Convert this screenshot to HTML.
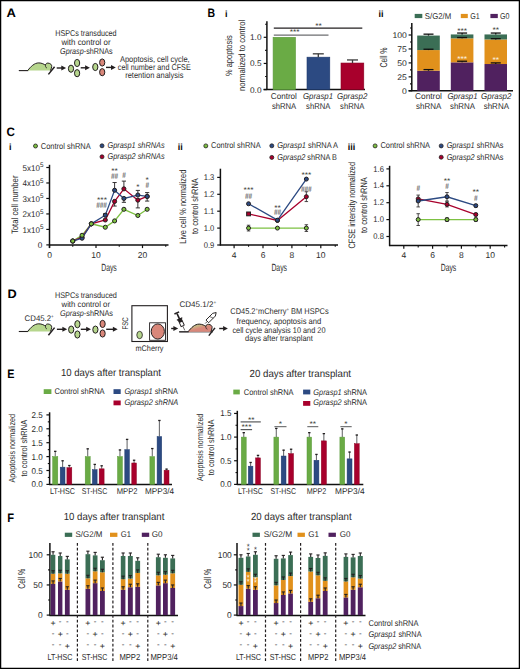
<!DOCTYPE html>
<html><head><meta charset="utf-8"><style>
html,body{margin:0;padding:0;background:#fff;}
svg{display:block;font-family:"Liberation Sans", sans-serif;text-rendering:geometricPrecision;}
</style></head><body>
<svg width="520" height="669" viewBox="0 0 520 669">
<rect width="520" height="669" fill="#fff"/>
<rect x="0" y="0" width="520" height="1.25" fill="#000"/><rect x="0" y="0" width="1.25" height="669" fill="#000"/><rect x="518.75" y="0" width="1.25" height="669" fill="#000"/><rect x="0" y="667.75" width="520" height="1.25" fill="#000"/>
<text x="6.60" y="16.80" font-size="12.2" font-weight="bold" fill="#000" textLength="9.40" lengthAdjust="spacingAndGlyphs">A</text>
<text x="207.40" y="16.80" font-size="12.2" font-weight="bold" fill="#000" textLength="7.60" lengthAdjust="spacingAndGlyphs">B</text>
<text x="6.40" y="135.90" font-size="12.2" font-weight="bold" fill="#000" textLength="8.40" lengthAdjust="spacingAndGlyphs">C</text>
<text x="7.40" y="298.20" font-size="12.2" font-weight="bold" fill="#000" textLength="9.20" lengthAdjust="spacingAndGlyphs">D</text>
<text x="7.20" y="378.30" font-size="12.2" font-weight="bold" fill="#000" textLength="7.20" lengthAdjust="spacingAndGlyphs">E</text>
<text x="7.20" y="521.50" font-size="12.2" font-weight="bold" fill="#000" textLength="6.80" lengthAdjust="spacingAndGlyphs">F</text>
<text x="225.00" y="16.50" font-size="9.0" font-weight="bold" fill="#000">i</text>
<text x="378.50" y="16.90" font-size="9.0" font-weight="bold" fill="#000">ii</text>
<text x="9.00" y="149.80" font-size="9.0" font-weight="bold" fill="#000">i</text>
<text x="177.80" y="149.70" font-size="9.0" font-weight="bold" fill="#000">ii</text>
<text x="347.80" y="149.70" font-size="9.0" font-weight="bold" fill="#000">iii</text>
<text x="85.90" y="36.30" font-size="8.48" text-anchor="middle" fill="#2b2b2b" textLength="61.40" lengthAdjust="spacingAndGlyphs">HSPCs transduced</text>
<text x="86.00" y="44.90" font-size="8.48" text-anchor="middle" fill="#2b2b2b" textLength="49.20" lengthAdjust="spacingAndGlyphs">with control or</text>
<text x="86.35" y="53.60" font-size="8.48" text-anchor="middle" fill="#2b2b2b" textLength="52.50" lengthAdjust="spacingAndGlyphs"><tspan font-style="italic">Gprasp</tspan>-shRNAs</text>
<text x="154.80" y="62.10" font-size="8.48" text-anchor="middle" fill="#2b2b2b" textLength="69.80" lengthAdjust="spacingAndGlyphs">Apoptosis, cell cycle,</text>
<text x="154.30" y="70.10" font-size="8.48" text-anchor="middle" fill="#2b2b2b" textLength="73.00" lengthAdjust="spacingAndGlyphs">cell number and CFSE</text>
<text x="154.30" y="78.10" font-size="8.48" text-anchor="middle" fill="#2b2b2b" textLength="58.20" lengthAdjust="spacingAndGlyphs">retention analysis</text>
<line x1="18.80" y1="70.60" x2="28.30" y2="70.60" stroke="#231f20" stroke-width="1.1"/>
<path d="M27.60,70.60 C30.80,66.60 34.30,62.90 38.80,62.90 C41.80,62.90 44.30,64.40 45.40,65.10 C45.80,63.40 47.10,63.00 48.10,63.10 C50.30,63.30 52.00,64.80 51.70,66.40 C51.50,68.10 51.00,69.60 50.40,70.60 Z" fill="#b6d68d" stroke="none"/>
<path d="M27.60,70.60 C30.80,66.60 34.30,62.90 38.80,62.90 C41.80,62.90 44.30,64.40 45.40,65.10 C45.80,63.40 47.10,63.00 48.10,63.10 C50.30,63.30 52.00,64.80 51.70,66.40 C51.50,68.10 51.00,69.60 50.40,70.60" fill="none" stroke="#231f20" stroke-width="1.0"/>
<path d="M45.40,65.10 C45.40,66.60 45.80,67.80 47.00,68.00" fill="none" stroke="#231f20" stroke-width="0.8"/>
<line x1="48.40" y1="74.40" x2="54.60" y2="66.70" stroke="#231f20" stroke-width="1.5"/>
<line x1="56.70" y1="68.00" x2="62.60" y2="68.00" stroke="#231f20" stroke-width="1.4"/>
<path d="M61.30,65.50 L66.10,68.00 L61.30,70.50 Z" fill="#231f20"/>
<ellipse cx="71.00" cy="68.70" rx="2.6" ry="3.6" fill="#b6d68d" stroke="#231f20" stroke-width="1.0"/>
<ellipse cx="77.10" cy="63.00" rx="2.6" ry="3.6" fill="#b6d68d" stroke="#231f20" stroke-width="1.0"/>
<ellipse cx="77.10" cy="73.20" rx="2.6" ry="3.6" fill="#b6d68d" stroke="#231f20" stroke-width="1.0"/>
<line x1="80.70" y1="67.80" x2="86.40" y2="67.80" stroke="#231f20" stroke-width="1.4"/>
<path d="M85.10,65.30 L89.90,67.80 L85.10,70.30 Z" fill="#231f20"/>
<ellipse cx="95.30" cy="67.00" rx="2.6" ry="3.6" fill="#b6d68d" stroke="#231f20" stroke-width="1.0"/>
<ellipse cx="102.20" cy="62.50" rx="2.6" ry="3.6" fill="#d9877a" stroke="#231f20" stroke-width="1.0"/>
<ellipse cx="102.20" cy="72.20" rx="2.6" ry="3.6" fill="#d9877a" stroke="#231f20" stroke-width="1.0"/>
<line x1="106.00" y1="67.40" x2="112.30" y2="67.40" stroke="#231f20" stroke-width="1.4"/>
<path d="M111.00,64.90 L115.80,67.40 L111.00,69.90 Z" fill="#231f20"/>
<line x1="266.90" y1="21.20" x2="266.90" y2="90.10" stroke="#111" stroke-width="1.5"/>
<line x1="263.70" y1="89.60" x2="266.90" y2="89.60" stroke="#111" stroke-width="1.2"/>
<line x1="263.70" y1="63.45" x2="266.90" y2="63.45" stroke="#111" stroke-width="1.2"/>
<line x1="263.70" y1="37.30" x2="266.90" y2="37.30" stroke="#111" stroke-width="1.2"/>
<line x1="265.10" y1="76.52" x2="266.90" y2="76.52" stroke="#111" stroke-width="1.1"/>
<line x1="265.10" y1="50.38" x2="266.90" y2="50.38" stroke="#111" stroke-width="1.1"/>
<line x1="265.10" y1="24.22" x2="266.90" y2="24.22" stroke="#111" stroke-width="1.1"/>
<line x1="263.60" y1="89.60" x2="365.00" y2="89.60" stroke="#111" stroke-width="1.5"/>
<text x="261.50" y="92.60" font-size="8.2" text-anchor="end" fill="#2b2b2b" textLength="11.50" lengthAdjust="spacingAndGlyphs">0.0</text>
<text x="261.50" y="66.45" font-size="8.2" text-anchor="end" fill="#2b2b2b" textLength="11.50" lengthAdjust="spacingAndGlyphs">0.5</text>
<text x="261.50" y="40.30" font-size="8.2" text-anchor="end" fill="#2b2b2b" textLength="11.50" lengthAdjust="spacingAndGlyphs">1.0</text>
<rect x="273.10" y="37.30" width="22.40" height="52.30" fill="#6aab45" stroke="#5a9a3a" stroke-width="0.6"/>
<rect x="307.00" y="57.17" width="22.80" height="32.43" fill="#2c4a82" stroke="#1f3a6e" stroke-width="0.6"/>
<rect x="341.00" y="63.03" width="22.80" height="26.57" fill="#a8002c" stroke="#8a0022" stroke-width="0.6"/>
<line x1="318.30" y1="57.17" x2="318.30" y2="53.83" stroke="#3a3a3a" stroke-width="1.3"/>
<line x1="312.80" y1="53.83" x2="323.80" y2="53.83" stroke="#3a3a3a" stroke-width="1.3"/>
<line x1="352.50" y1="63.03" x2="352.50" y2="59.95" stroke="#3a3a3a" stroke-width="1.3"/>
<line x1="347.00" y1="59.95" x2="358.00" y2="59.95" stroke="#3a3a3a" stroke-width="1.3"/>
<line x1="273.80" y1="28.20" x2="362.30" y2="28.20" stroke="#231f20" stroke-width="1.3"/>
<line x1="273.80" y1="35.10" x2="328.50" y2="35.10" stroke="#6d6e71" stroke-width="1.4"/>
<text x="318.50" y="27.80" font-size="7.0" text-anchor="middle" fill="#231f20" textLength="6.60" lengthAdjust="spacingAndGlyphs">**</text>
<text x="294.60" y="34.40" font-size="7.0" text-anchor="middle" fill="#231f20" textLength="9.90" lengthAdjust="spacingAndGlyphs">***</text>
<text x="283.85" y="99.10" font-size="8.48" text-anchor="middle" fill="#2b2b2b" textLength="26.10" lengthAdjust="spacingAndGlyphs">Control</text>
<text x="284.05" y="108.60" font-size="8.48" text-anchor="middle" fill="#2b2b2b" textLength="24.30" lengthAdjust="spacingAndGlyphs">shRNA</text>
<text x="318.00" y="99.00" font-size="8.48" text-anchor="middle" font-style="italic" fill="#2b2b2b" textLength="30.00" lengthAdjust="spacingAndGlyphs">Gprasp1</text>
<text x="318.20" y="108.60" font-size="8.48" text-anchor="middle" fill="#2b2b2b" textLength="24.20" lengthAdjust="spacingAndGlyphs">shRNA</text>
<text x="352.15" y="99.00" font-size="8.48" text-anchor="middle" font-style="italic" fill="#2b2b2b" textLength="30.30" lengthAdjust="spacingAndGlyphs">Gprasp2</text>
<text x="352.20" y="108.60" font-size="8.48" text-anchor="middle" fill="#2b2b2b" textLength="24.20" lengthAdjust="spacingAndGlyphs">shRNA</text>
<text x="232.40" y="55.70" font-size="9.2" text-anchor="middle" fill="#2b2b2b" textLength="40.70" lengthAdjust="spacingAndGlyphs" transform="rotate(-90 232.40 55.70)">% apoptosis</text>
<text x="244.80" y="55.40" font-size="9.2" text-anchor="middle" fill="#2b2b2b" textLength="71.20" lengthAdjust="spacingAndGlyphs" transform="rotate(-90 244.80 55.40)">normalized to control</text>
<line x1="411.80" y1="23.00" x2="411.80" y2="91.30" stroke="#111" stroke-width="1.5"/>
<line x1="408.60" y1="90.80" x2="411.80" y2="90.80" stroke="#111" stroke-width="1.2"/>
<line x1="408.60" y1="76.85" x2="411.80" y2="76.85" stroke="#111" stroke-width="1.2"/>
<line x1="408.60" y1="62.90" x2="411.80" y2="62.90" stroke="#111" stroke-width="1.2"/>
<line x1="408.60" y1="48.95" x2="411.80" y2="48.95" stroke="#111" stroke-width="1.2"/>
<line x1="408.60" y1="35.00" x2="411.80" y2="35.00" stroke="#111" stroke-width="1.2"/>
<line x1="410.00" y1="83.83" x2="411.80" y2="83.83" stroke="#111" stroke-width="1.1"/>
<line x1="410.00" y1="69.88" x2="411.80" y2="69.88" stroke="#111" stroke-width="1.1"/>
<line x1="410.00" y1="55.93" x2="411.80" y2="55.93" stroke="#111" stroke-width="1.1"/>
<line x1="410.00" y1="41.98" x2="411.80" y2="41.98" stroke="#111" stroke-width="1.1"/>
<line x1="410.00" y1="28.03" x2="411.80" y2="28.03" stroke="#111" stroke-width="1.1"/>
<line x1="408.60" y1="90.80" x2="513.00" y2="90.80" stroke="#111" stroke-width="1.5"/>
<text x="406.90" y="93.80" font-size="8.2" text-anchor="end" fill="#2b2b2b" textLength="4.80" lengthAdjust="spacingAndGlyphs">0</text>
<text x="406.90" y="79.85" font-size="8.2" text-anchor="end" fill="#2b2b2b" textLength="9.60" lengthAdjust="spacingAndGlyphs">25</text>
<text x="406.90" y="65.90" font-size="8.2" text-anchor="end" fill="#2b2b2b" textLength="9.60" lengthAdjust="spacingAndGlyphs">50</text>
<text x="406.90" y="51.95" font-size="8.2" text-anchor="end" fill="#2b2b2b" textLength="9.60" lengthAdjust="spacingAndGlyphs">75</text>
<text x="406.90" y="38.00" font-size="8.2" text-anchor="end" fill="#2b2b2b" textLength="14.40" lengthAdjust="spacingAndGlyphs">100</text>
<rect x="414.70" y="13.90" width="7.60" height="4.20" fill="#3b6e55"/>
<text x="424.80" y="18.80" font-size="8.48" fill="#2b2b2b" textLength="26.50" lengthAdjust="spacingAndGlyphs">S/G2/M</text>
<rect x="460.80" y="13.90" width="7.00" height="4.20" fill="#e1911c"/>
<text x="470.30" y="18.80" font-size="8.48" fill="#2b2b2b" textLength="9.50" lengthAdjust="spacingAndGlyphs">G1</text>
<rect x="490.40" y="13.90" width="7.40" height="4.20" fill="#50215f"/>
<text x="499.90" y="18.80" font-size="8.48" fill="#2b2b2b" textLength="9.50" lengthAdjust="spacingAndGlyphs">G0</text>
<rect x="417.20" y="70.71" width="22.60" height="20.09" fill="#50215f"/>
<rect x="417.20" y="50.07" width="22.60" height="20.65" fill="#e1911c"/>
<rect x="417.20" y="35.56" width="22.60" height="14.51" fill="#3b6e55"/>
<line x1="428.50" y1="70.71" x2="428.50" y2="69.60" stroke="#111" stroke-width="1.3"/>
<line x1="423.50" y1="69.60" x2="433.50" y2="69.60" stroke="#111" stroke-width="1.3"/>
<line x1="428.50" y1="50.07" x2="428.50" y2="49.23" stroke="#111" stroke-width="1.3"/>
<line x1="423.50" y1="49.23" x2="433.50" y2="49.23" stroke="#111" stroke-width="1.3"/>
<line x1="428.50" y1="35.56" x2="428.50" y2="34.16" stroke="#111" stroke-width="1.3"/>
<line x1="423.50" y1="34.16" x2="433.50" y2="34.16" stroke="#111" stroke-width="1.3"/>
<rect x="450.80" y="62.34" width="22.60" height="28.46" fill="#50215f"/>
<rect x="450.80" y="38.35" width="22.60" height="23.99" fill="#e1911c"/>
<rect x="450.80" y="34.44" width="22.60" height="3.91" fill="#3b6e55"/>
<line x1="462.10" y1="62.34" x2="462.10" y2="61.23" stroke="#111" stroke-width="1.3"/>
<line x1="457.10" y1="61.23" x2="467.10" y2="61.23" stroke="#111" stroke-width="1.3"/>
<line x1="462.10" y1="38.35" x2="462.10" y2="37.51" stroke="#111" stroke-width="1.3"/>
<line x1="457.10" y1="37.51" x2="467.10" y2="37.51" stroke="#111" stroke-width="1.3"/>
<line x1="462.10" y1="34.44" x2="462.10" y2="33.05" stroke="#111" stroke-width="1.3"/>
<line x1="457.10" y1="33.05" x2="467.10" y2="33.05" stroke="#111" stroke-width="1.3"/>
<rect x="484.50" y="64.02" width="22.50" height="26.78" fill="#50215f"/>
<rect x="484.50" y="39.46" width="22.50" height="24.55" fill="#e1911c"/>
<rect x="484.50" y="34.44" width="22.50" height="5.02" fill="#3b6e55"/>
<line x1="495.75" y1="64.02" x2="495.75" y2="62.90" stroke="#111" stroke-width="1.3"/>
<line x1="490.75" y1="62.90" x2="500.75" y2="62.90" stroke="#111" stroke-width="1.3"/>
<line x1="495.75" y1="39.46" x2="495.75" y2="38.63" stroke="#111" stroke-width="1.3"/>
<line x1="490.75" y1="38.63" x2="500.75" y2="38.63" stroke="#111" stroke-width="1.3"/>
<line x1="495.75" y1="34.44" x2="495.75" y2="33.05" stroke="#111" stroke-width="1.3"/>
<line x1="490.75" y1="33.05" x2="500.75" y2="33.05" stroke="#111" stroke-width="1.3"/>
<text x="462.10" y="33.30" font-size="7.0" text-anchor="middle" fill="#231f20" textLength="9.90" lengthAdjust="spacingAndGlyphs">***</text>
<text x="495.70" y="32.40" font-size="7.0" text-anchor="middle" fill="#231f20" textLength="6.60" lengthAdjust="spacingAndGlyphs">**</text>
<text x="462.10" y="60.60" font-size="7.0" text-anchor="middle" fill="#fff" textLength="9.90" lengthAdjust="spacingAndGlyphs">***</text>
<text x="495.70" y="62.00" font-size="7.0" text-anchor="middle" fill="#fff" textLength="6.60" lengthAdjust="spacingAndGlyphs">**</text>
<text x="428.45" y="99.10" font-size="8.48" text-anchor="middle" fill="#2b2b2b" textLength="26.90" lengthAdjust="spacingAndGlyphs">Control</text>
<text x="428.70" y="108.60" font-size="8.48" text-anchor="middle" fill="#2b2b2b" textLength="25.20" lengthAdjust="spacingAndGlyphs">shRNA</text>
<text x="462.50" y="99.10" font-size="8.48" text-anchor="middle" font-style="italic" fill="#2b2b2b" textLength="30.20" lengthAdjust="spacingAndGlyphs">Gprasp1</text>
<text x="462.50" y="108.60" font-size="8.48" text-anchor="middle" fill="#2b2b2b" textLength="25.00" lengthAdjust="spacingAndGlyphs">shRNA</text>
<text x="496.25" y="99.10" font-size="8.48" text-anchor="middle" font-style="italic" fill="#2b2b2b" textLength="30.30" lengthAdjust="spacingAndGlyphs">Gprasp2</text>
<text x="496.35" y="108.60" font-size="8.48" text-anchor="middle" fill="#2b2b2b" textLength="25.30" lengthAdjust="spacingAndGlyphs">shRNA</text>
<text x="387.20" y="57.50" font-size="10.0" text-anchor="middle" fill="#2b2b2b" textLength="20.10" lengthAdjust="spacingAndGlyphs" transform="rotate(-90 387.20 57.50)">Cell %</text>
<circle cx="35.50" cy="146.00" r="2.0" fill="#7dc142" stroke="#231f20" stroke-width="0.8"/>
<text x="40.80" y="148.50" font-size="8.48" fill="#2b2b2b" textLength="49.90" lengthAdjust="spacingAndGlyphs">Control shRNA</text>
<circle cx="102.00" cy="145.80" r="2.0" fill="#2c4a82" stroke="#231f20" stroke-width="0.8"/>
<text x="107.50" y="148.30" font-size="8.48" fill="#2b2b2b" textLength="57.10" lengthAdjust="spacingAndGlyphs"><tspan font-style="italic">Gprasp1</tspan> <tspan font-style="italic">shRNAs</tspan></text>
<circle cx="102.00" cy="156.80" r="2.0" fill="#a8002c" stroke="#231f20" stroke-width="0.8"/>
<text x="107.50" y="159.30" font-size="8.48" fill="#2b2b2b" textLength="57.10" lengthAdjust="spacingAndGlyphs"><tspan font-style="italic">Gprasp2</tspan> <tspan font-style="italic">shRNAs</tspan></text>
<circle cx="205.80" cy="145.90" r="2.0" fill="#7dc142" stroke="#231f20" stroke-width="0.8"/>
<text x="211.10" y="148.40" font-size="8.48" fill="#2b2b2b" textLength="49.50" lengthAdjust="spacingAndGlyphs">Control shRNA</text>
<circle cx="271.80" cy="145.80" r="2.0" fill="#2c4a82" stroke="#231f20" stroke-width="0.8"/>
<text x="277.30" y="148.30" font-size="8.48" fill="#2b2b2b" textLength="60.60" lengthAdjust="spacingAndGlyphs"><tspan font-style="italic">Gprasp1</tspan> shRNA A</text>
<circle cx="271.80" cy="157.40" r="2.0" fill="#a8002c" stroke="#231f20" stroke-width="0.8"/>
<text x="277.30" y="159.90" font-size="8.48" fill="#2b2b2b" textLength="59.70" lengthAdjust="spacingAndGlyphs"><tspan font-style="italic">Gprasp2</tspan> shRNA B</text>
<circle cx="375.10" cy="145.90" r="2.0" fill="#7dc142" stroke="#231f20" stroke-width="0.8"/>
<text x="380.40" y="148.40" font-size="8.48" fill="#2b2b2b" textLength="49.70" lengthAdjust="spacingAndGlyphs">Control shRNA</text>
<circle cx="441.20" cy="145.90" r="2.0" fill="#2c4a82" stroke="#231f20" stroke-width="0.8"/>
<text x="446.70" y="148.40" font-size="8.48" fill="#2b2b2b" textLength="56.80" lengthAdjust="spacingAndGlyphs"><tspan font-style="italic">Gprasp1</tspan> shRNAs</text>
<circle cx="441.20" cy="157.20" r="2.0" fill="#a8002c" stroke="#231f20" stroke-width="0.8"/>
<text x="446.70" y="159.70" font-size="8.48" fill="#2b2b2b" textLength="56.80" lengthAdjust="spacingAndGlyphs"><tspan font-style="italic">Gprasp2</tspan> shRNAs</text>
<line x1="49.50" y1="164.80" x2="49.50" y2="247.90" stroke="#111" stroke-width="1.5"/>
<line x1="46.30" y1="244.90" x2="49.50" y2="244.90" stroke="#111" stroke-width="1.2"/>
<line x1="46.30" y1="229.42" x2="49.50" y2="229.42" stroke="#111" stroke-width="1.2"/>
<line x1="46.30" y1="213.94" x2="49.50" y2="213.94" stroke="#111" stroke-width="1.2"/>
<line x1="46.30" y1="198.46" x2="49.50" y2="198.46" stroke="#111" stroke-width="1.2"/>
<line x1="46.30" y1="182.98" x2="49.50" y2="182.98" stroke="#111" stroke-width="1.2"/>
<line x1="46.30" y1="167.50" x2="49.50" y2="167.50" stroke="#111" stroke-width="1.2"/>
<line x1="49.00" y1="244.90" x2="168.50" y2="244.90" stroke="#111" stroke-width="1.5"/>
<line x1="49.50" y1="244.90" x2="49.50" y2="248.10" stroke="#111" stroke-width="1.2"/>
<line x1="96.00" y1="244.90" x2="96.00" y2="248.10" stroke="#111" stroke-width="1.2"/>
<line x1="142.50" y1="244.90" x2="142.50" y2="248.10" stroke="#111" stroke-width="1.2"/>
<line x1="72.75" y1="244.90" x2="72.75" y2="246.70" stroke="#111" stroke-width="1.1"/>
<line x1="119.25" y1="244.90" x2="119.25" y2="246.70" stroke="#111" stroke-width="1.1"/>
<line x1="165.75" y1="244.90" x2="165.75" y2="246.70" stroke="#111" stroke-width="1.1"/>
<text x="42.40" y="247.90" font-size="8.2" text-anchor="end" fill="#2b2b2b">0</text>
<text x="43.40" y="232.82" font-size="8.4" text-anchor="end" fill="#2b2b2b" textLength="20.90" lengthAdjust="spacingAndGlyphs">1x10<tspan font-size="6.6" dy="-3.8">5</tspan></text>
<text x="43.40" y="217.34" font-size="8.4" text-anchor="end" fill="#2b2b2b" textLength="20.90" lengthAdjust="spacingAndGlyphs">2x10<tspan font-size="6.6" dy="-3.8">5</tspan></text>
<text x="43.40" y="201.86" font-size="8.4" text-anchor="end" fill="#2b2b2b" textLength="20.90" lengthAdjust="spacingAndGlyphs">3x10<tspan font-size="6.6" dy="-3.8">5</tspan></text>
<text x="43.40" y="186.38" font-size="8.4" text-anchor="end" fill="#2b2b2b" textLength="20.90" lengthAdjust="spacingAndGlyphs">4x10<tspan font-size="6.6" dy="-3.8">5</tspan></text>
<text x="43.40" y="170.90" font-size="8.4" text-anchor="end" fill="#2b2b2b" textLength="20.90" lengthAdjust="spacingAndGlyphs">5x10<tspan font-size="6.6" dy="-3.8">5</tspan></text>
<text x="49.50" y="258.30" font-size="8.53" text-anchor="middle" fill="#2b2b2b">0</text>
<text x="96.00" y="258.30" font-size="8.53" text-anchor="middle" fill="#2b2b2b">10</text>
<text x="142.50" y="258.30" font-size="8.53" text-anchor="middle" fill="#2b2b2b">20</text>
<text x="109.00" y="270.50" font-size="10.4" text-anchor="middle" fill="#2b2b2b" textLength="15.60" lengthAdjust="spacingAndGlyphs">Days</text>
<text x="17.60" y="204.80" font-size="9.3" text-anchor="middle" fill="#2b2b2b" textLength="58.60" lengthAdjust="spacingAndGlyphs" transform="rotate(-90 17.60 204.80)">Total cell number</text>
<line x1="114.60" y1="190.26" x2="114.60" y2="182.52" stroke="#231f20" stroke-width="0.9"/>
<line x1="112.50" y1="182.52" x2="116.70" y2="182.52" stroke="#231f20" stroke-width="0.9"/>
<line x1="114.60" y1="201.40" x2="114.60" y2="206.05" stroke="#231f20" stroke-width="0.9"/>
<line x1="112.50" y1="206.05" x2="116.70" y2="206.05" stroke="#231f20" stroke-width="0.9"/>
<line x1="123.90" y1="188.86" x2="123.90" y2="181.12" stroke="#231f20" stroke-width="0.9"/>
<line x1="121.80" y1="181.12" x2="126.00" y2="181.12" stroke="#231f20" stroke-width="0.9"/>
<line x1="123.90" y1="198.46" x2="123.90" y2="202.33" stroke="#231f20" stroke-width="0.9"/>
<line x1="121.80" y1="202.33" x2="126.00" y2="202.33" stroke="#231f20" stroke-width="0.9"/>
<line x1="137.85" y1="195.05" x2="137.85" y2="190.41" stroke="#231f20" stroke-width="0.9"/>
<line x1="135.75" y1="190.41" x2="139.95" y2="190.41" stroke="#231f20" stroke-width="0.9"/>
<line x1="137.85" y1="200.16" x2="137.85" y2="207.90" stroke="#231f20" stroke-width="0.9"/>
<line x1="135.75" y1="207.90" x2="139.95" y2="207.90" stroke="#231f20" stroke-width="0.9"/>
<line x1="147.15" y1="196.45" x2="147.15" y2="192.58" stroke="#231f20" stroke-width="0.9"/>
<line x1="145.05" y1="192.58" x2="149.25" y2="192.58" stroke="#231f20" stroke-width="0.9"/>
<line x1="147.15" y1="196.45" x2="147.15" y2="201.09" stroke="#231f20" stroke-width="0.9"/>
<line x1="145.05" y1="201.09" x2="149.25" y2="201.09" stroke="#231f20" stroke-width="0.9"/>
<line x1="105.30" y1="215.18" x2="105.30" y2="213.63" stroke="#231f20" stroke-width="0.9"/>
<line x1="103.20" y1="213.63" x2="107.40" y2="213.63" stroke="#231f20" stroke-width="0.9"/>
<polyline points="72.75,241.03 82.05,235.30 91.35,223.85 105.30,227.25 114.60,220.91 123.90,209.30 137.85,215.49 147.15,209.30" fill="none" stroke="#7dc142" stroke-width="1.3"/>
<polyline points="72.75,241.03 82.05,237.16 91.35,223.85 105.30,219.98 114.60,201.40 123.90,188.86 137.85,200.16 147.15,196.45" fill="none" stroke="#a8002c" stroke-width="1.3"/>
<polyline points="72.75,241.03 82.05,238.24 91.35,223.85 105.30,215.18 114.60,190.26 123.90,198.46 137.85,195.05 147.15,196.45" fill="none" stroke="#2c4a82" stroke-width="1.3"/>
<circle cx="72.75" cy="241.03" r="2.05" fill="#a8002c" stroke="#231f20" stroke-width="1.0"/>
<circle cx="82.05" cy="237.16" r="2.05" fill="#a8002c" stroke="#231f20" stroke-width="1.0"/>
<circle cx="91.35" cy="223.85" r="2.05" fill="#a8002c" stroke="#231f20" stroke-width="1.0"/>
<circle cx="105.30" cy="219.98" r="2.05" fill="#a8002c" stroke="#231f20" stroke-width="1.0"/>
<circle cx="114.60" cy="201.40" r="2.05" fill="#a8002c" stroke="#231f20" stroke-width="1.0"/>
<circle cx="123.90" cy="188.86" r="2.05" fill="#a8002c" stroke="#231f20" stroke-width="1.0"/>
<circle cx="137.85" cy="200.16" r="2.05" fill="#a8002c" stroke="#231f20" stroke-width="1.0"/>
<circle cx="147.15" cy="196.45" r="2.05" fill="#a8002c" stroke="#231f20" stroke-width="1.0"/>
<circle cx="72.75" cy="241.03" r="2.05" fill="#2c4a82" stroke="#231f20" stroke-width="1.0"/>
<circle cx="82.05" cy="238.24" r="2.05" fill="#2c4a82" stroke="#231f20" stroke-width="1.0"/>
<circle cx="91.35" cy="223.85" r="2.05" fill="#2c4a82" stroke="#231f20" stroke-width="1.0"/>
<circle cx="105.30" cy="215.18" r="2.05" fill="#2c4a82" stroke="#231f20" stroke-width="1.0"/>
<circle cx="114.60" cy="190.26" r="2.05" fill="#2c4a82" stroke="#231f20" stroke-width="1.0"/>
<circle cx="123.90" cy="198.46" r="2.05" fill="#2c4a82" stroke="#231f20" stroke-width="1.0"/>
<circle cx="137.85" cy="195.05" r="2.05" fill="#2c4a82" stroke="#231f20" stroke-width="1.0"/>
<circle cx="147.15" cy="196.45" r="2.05" fill="#2c4a82" stroke="#231f20" stroke-width="1.0"/>
<circle cx="72.75" cy="241.03" r="2.05" fill="#7dc142" stroke="#231f20" stroke-width="1.0"/>
<circle cx="82.05" cy="235.30" r="2.05" fill="#7dc142" stroke="#231f20" stroke-width="1.0"/>
<circle cx="91.35" cy="223.85" r="2.05" fill="#7dc142" stroke="#231f20" stroke-width="1.0"/>
<circle cx="105.30" cy="227.25" r="2.05" fill="#7dc142" stroke="#231f20" stroke-width="1.0"/>
<circle cx="114.60" cy="220.91" r="2.05" fill="#7dc142" stroke="#231f20" stroke-width="1.0"/>
<circle cx="123.90" cy="209.30" r="2.05" fill="#7dc142" stroke="#231f20" stroke-width="1.0"/>
<circle cx="137.85" cy="215.49" r="2.05" fill="#7dc142" stroke="#231f20" stroke-width="1.0"/>
<circle cx="147.15" cy="209.30" r="2.05" fill="#7dc142" stroke="#231f20" stroke-width="1.0"/>
<text x="114.60" y="172.80" font-size="7.0" text-anchor="middle" fill="#231f20" textLength="6.60" lengthAdjust="spacingAndGlyphs">**</text>
<text x="114.60" y="178.80" font-size="8.6" text-anchor="middle" font-style="italic" fill="#414042" textLength="7.00" lengthAdjust="spacingAndGlyphs">##</text>
<text x="123.90" y="178.00" font-size="8.6" text-anchor="middle" font-style="italic" fill="#414042" textLength="3.50" lengthAdjust="spacingAndGlyphs">#</text>
<text x="102.00" y="201.60" font-size="7.0" text-anchor="middle" fill="#231f20" textLength="9.90" lengthAdjust="spacingAndGlyphs">***</text>
<text x="101.50" y="207.60" font-size="8.6" text-anchor="middle" font-style="italic" fill="#414042" textLength="10.50" lengthAdjust="spacingAndGlyphs">###</text>
<text x="137.85" y="188.60" font-size="7.0" text-anchor="middle" fill="#231f20" textLength="3.30" lengthAdjust="spacingAndGlyphs">*</text>
<text x="147.15" y="181.90" font-size="7.0" text-anchor="middle" fill="#231f20" textLength="3.30" lengthAdjust="spacingAndGlyphs">*</text>
<text x="147.15" y="187.60" font-size="8.6" text-anchor="middle" font-style="italic" fill="#414042" textLength="3.50" lengthAdjust="spacingAndGlyphs">#</text>
<line x1="220.40" y1="168.70" x2="220.40" y2="245.50" stroke="#111" stroke-width="1.5"/>
<line x1="217.20" y1="245.00" x2="220.40" y2="245.00" stroke="#111" stroke-width="1.2"/>
<line x1="217.20" y1="228.10" x2="220.40" y2="228.10" stroke="#111" stroke-width="1.2"/>
<line x1="217.20" y1="211.20" x2="220.40" y2="211.20" stroke="#111" stroke-width="1.2"/>
<line x1="217.20" y1="194.30" x2="220.40" y2="194.30" stroke="#111" stroke-width="1.2"/>
<line x1="217.20" y1="177.40" x2="220.40" y2="177.40" stroke="#111" stroke-width="1.2"/>
<line x1="219.90" y1="245.00" x2="338.00" y2="245.00" stroke="#111" stroke-width="1.5"/>
<line x1="234.10" y1="245.00" x2="234.10" y2="248.20" stroke="#111" stroke-width="1.2"/>
<line x1="263.00" y1="245.00" x2="263.00" y2="248.20" stroke="#111" stroke-width="1.2"/>
<line x1="291.90" y1="245.00" x2="291.90" y2="248.20" stroke="#111" stroke-width="1.2"/>
<line x1="320.80" y1="245.00" x2="320.80" y2="248.20" stroke="#111" stroke-width="1.2"/>
<line x1="248.55" y1="245.00" x2="248.55" y2="246.80" stroke="#111" stroke-width="1.1"/>
<line x1="277.45" y1="245.00" x2="277.45" y2="246.80" stroke="#111" stroke-width="1.1"/>
<line x1="306.35" y1="245.00" x2="306.35" y2="246.80" stroke="#111" stroke-width="1.1"/>
<line x1="335.25" y1="245.00" x2="335.25" y2="246.80" stroke="#111" stroke-width="1.1"/>
<text x="214.30" y="247.70" font-size="8.4" text-anchor="end" fill="#2b2b2b" textLength="10.60" lengthAdjust="spacingAndGlyphs">0.9</text>
<text x="214.30" y="230.80" font-size="8.4" text-anchor="end" fill="#2b2b2b" textLength="10.60" lengthAdjust="spacingAndGlyphs">1.0</text>
<text x="214.30" y="213.90" font-size="8.4" text-anchor="end" fill="#2b2b2b" textLength="10.60" lengthAdjust="spacingAndGlyphs">1.1</text>
<text x="214.30" y="197.00" font-size="8.4" text-anchor="end" fill="#2b2b2b" textLength="10.60" lengthAdjust="spacingAndGlyphs">1.2</text>
<text x="214.30" y="180.10" font-size="8.4" text-anchor="end" fill="#2b2b2b" textLength="10.60" lengthAdjust="spacingAndGlyphs">1.3</text>
<text x="234.10" y="258.30" font-size="8.53" text-anchor="middle" fill="#2b2b2b">4</text>
<text x="263.00" y="258.30" font-size="8.53" text-anchor="middle" fill="#2b2b2b">6</text>
<text x="291.90" y="258.30" font-size="8.53" text-anchor="middle" fill="#2b2b2b">8</text>
<text x="320.80" y="258.30" font-size="8.53" text-anchor="middle" fill="#2b2b2b">10</text>
<text x="279.20" y="270.50" font-size="10.4" text-anchor="middle" fill="#2b2b2b" textLength="15.60" lengthAdjust="spacingAndGlyphs">Days</text>
<text x="186.40" y="206.70" font-size="9.3" text-anchor="middle" fill="#2b2b2b" textLength="74.10" lengthAdjust="spacingAndGlyphs" transform="rotate(-90 186.40 206.70)">Live cell % normalized</text>
<text x="197.90" y="206.20" font-size="9.3" text-anchor="middle" fill="#2b2b2b" textLength="55.70" lengthAdjust="spacingAndGlyphs" transform="rotate(-90 197.90 206.20)">to control shRNA</text>
<line x1="248.55" y1="228.10" x2="248.55" y2="225.23" stroke="#231f20" stroke-width="0.8"/>
<line x1="246.80" y1="225.23" x2="250.30" y2="225.23" stroke="#231f20" stroke-width="0.8"/>
<line x1="248.55" y1="228.10" x2="248.55" y2="230.97" stroke="#231f20" stroke-width="0.8"/>
<line x1="246.80" y1="230.97" x2="250.30" y2="230.97" stroke="#231f20" stroke-width="0.8"/>
<line x1="306.35" y1="228.10" x2="306.35" y2="224.72" stroke="#231f20" stroke-width="0.8"/>
<line x1="304.60" y1="224.72" x2="308.10" y2="224.72" stroke="#231f20" stroke-width="0.8"/>
<line x1="306.35" y1="228.10" x2="306.35" y2="231.48" stroke="#231f20" stroke-width="0.8"/>
<line x1="304.60" y1="231.48" x2="308.10" y2="231.48" stroke="#231f20" stroke-width="0.8"/>
<line x1="306.35" y1="196.67" x2="306.35" y2="191.76" stroke="#231f20" stroke-width="0.8"/>
<line x1="304.60" y1="191.76" x2="308.10" y2="191.76" stroke="#231f20" stroke-width="0.8"/>
<line x1="306.35" y1="196.67" x2="306.35" y2="201.57" stroke="#231f20" stroke-width="0.8"/>
<line x1="304.60" y1="201.57" x2="308.10" y2="201.57" stroke="#231f20" stroke-width="0.8"/>
<polyline points="248.55,228.10 277.45,228.10 306.35,228.10" fill="none" stroke="#7dc142" stroke-width="1.3"/>
<polyline points="248.55,213.90 277.45,220.50 306.35,196.67" fill="none" stroke="#a8002c" stroke-width="1.3"/>
<polyline points="248.55,203.76 277.45,220.16 306.35,179.09" fill="none" stroke="#2c4a82" stroke-width="1.3"/>
<rect x="246.65" y="212.00" width="3.80" height="3.80" fill="#a8002c" stroke="#231f20" stroke-width="1.0"/>
<circle cx="277.45" cy="220.50" r="2.0" fill="#a8002c" stroke="#231f20" stroke-width="1.0"/>
<circle cx="306.35" cy="196.67" r="2.0" fill="#a8002c" stroke="#231f20" stroke-width="1.0"/>
<circle cx="248.55" cy="203.76" r="2.0" fill="#2c4a82" stroke="#231f20" stroke-width="1.0"/>
<circle cx="277.45" cy="220.16" r="2.0" fill="#2c4a82" stroke="#231f20" stroke-width="1.0"/>
<circle cx="306.35" cy="179.09" r="2.0" fill="#2c4a82" stroke="#231f20" stroke-width="1.0"/>
<circle cx="248.55" cy="228.10" r="2.0" fill="#7dc142" stroke="#231f20" stroke-width="1.0"/>
<circle cx="277.45" cy="228.10" r="2.0" fill="#7dc142" stroke="#231f20" stroke-width="1.0"/>
<circle cx="306.35" cy="228.10" r="2.0" fill="#7dc142" stroke="#231f20" stroke-width="1.0"/>
<text x="248.55" y="192.20" font-size="7.0" text-anchor="middle" fill="#231f20" textLength="9.90" lengthAdjust="spacingAndGlyphs">***</text>
<text x="248.55" y="198.60" font-size="8.6" text-anchor="middle" font-style="italic" fill="#414042" textLength="7.00" lengthAdjust="spacingAndGlyphs">##</text>
<text x="277.45" y="209.60" font-size="7.0" text-anchor="middle" fill="#231f20" textLength="6.60" lengthAdjust="spacingAndGlyphs">**</text>
<text x="277.45" y="215.00" font-size="8.6" text-anchor="middle" font-style="italic" fill="#414042" textLength="7.00" lengthAdjust="spacingAndGlyphs">##</text>
<text x="306.35" y="176.90" font-size="7.0" text-anchor="middle" fill="#231f20" textLength="9.90" lengthAdjust="spacingAndGlyphs">***</text>
<text x="306.35" y="191.80" font-size="8.6" text-anchor="middle" font-style="italic" fill="#414042" textLength="10.50" lengthAdjust="spacingAndGlyphs">###</text>
<line x1="389.60" y1="165.80" x2="389.60" y2="246.10" stroke="#111" stroke-width="1.5"/>
<line x1="386.40" y1="236.50" x2="389.60" y2="236.50" stroke="#111" stroke-width="1.2"/>
<line x1="386.40" y1="219.60" x2="389.60" y2="219.60" stroke="#111" stroke-width="1.2"/>
<line x1="386.40" y1="202.70" x2="389.60" y2="202.70" stroke="#111" stroke-width="1.2"/>
<line x1="386.40" y1="185.80" x2="389.60" y2="185.80" stroke="#111" stroke-width="1.2"/>
<line x1="386.40" y1="168.90" x2="389.60" y2="168.90" stroke="#111" stroke-width="1.2"/>
<line x1="389.10" y1="245.60" x2="507.50" y2="245.60" stroke="#111" stroke-width="1.5"/>
<line x1="403.80" y1="245.60" x2="403.80" y2="248.80" stroke="#111" stroke-width="1.2"/>
<line x1="432.60" y1="245.60" x2="432.60" y2="248.80" stroke="#111" stroke-width="1.2"/>
<line x1="461.40" y1="245.60" x2="461.40" y2="248.80" stroke="#111" stroke-width="1.2"/>
<line x1="490.20" y1="245.60" x2="490.20" y2="248.80" stroke="#111" stroke-width="1.2"/>
<line x1="418.20" y1="245.60" x2="418.20" y2="247.40" stroke="#111" stroke-width="1.1"/>
<line x1="447.00" y1="245.60" x2="447.00" y2="247.40" stroke="#111" stroke-width="1.1"/>
<line x1="475.80" y1="245.60" x2="475.80" y2="247.40" stroke="#111" stroke-width="1.1"/>
<line x1="504.60" y1="245.60" x2="504.60" y2="247.40" stroke="#111" stroke-width="1.1"/>
<text x="383.90" y="239.10" font-size="8.4" text-anchor="end" fill="#2b2b2b" textLength="10.60" lengthAdjust="spacingAndGlyphs">0.8</text>
<text x="383.90" y="222.20" font-size="8.4" text-anchor="end" fill="#2b2b2b" textLength="10.60" lengthAdjust="spacingAndGlyphs">1.0</text>
<text x="383.90" y="205.30" font-size="8.4" text-anchor="end" fill="#2b2b2b" textLength="10.60" lengthAdjust="spacingAndGlyphs">1.2</text>
<text x="383.90" y="188.40" font-size="8.4" text-anchor="end" fill="#2b2b2b" textLength="10.60" lengthAdjust="spacingAndGlyphs">1.4</text>
<text x="383.90" y="171.50" font-size="8.4" text-anchor="end" fill="#2b2b2b" textLength="10.60" lengthAdjust="spacingAndGlyphs">1.6</text>
<text x="403.80" y="258.30" font-size="8.53" text-anchor="middle" fill="#2b2b2b">4</text>
<text x="432.60" y="258.30" font-size="8.53" text-anchor="middle" fill="#2b2b2b">6</text>
<text x="461.40" y="258.30" font-size="8.53" text-anchor="middle" fill="#2b2b2b">8</text>
<text x="490.20" y="258.30" font-size="8.53" text-anchor="middle" fill="#2b2b2b">10</text>
<text x="448.50" y="270.50" font-size="10.4" text-anchor="middle" fill="#2b2b2b" textLength="15.60" lengthAdjust="spacingAndGlyphs">Days</text>
<text x="355.40" y="205.20" font-size="9.3" text-anchor="middle" fill="#2b2b2b" textLength="86.50" lengthAdjust="spacingAndGlyphs" transform="rotate(-90 355.40 205.20)">CFSE intensity normalized</text>
<text x="366.90" y="205.20" font-size="9.3" text-anchor="middle" fill="#2b2b2b" textLength="55.70" lengthAdjust="spacingAndGlyphs" transform="rotate(-90 366.90 205.20)">to control shRNA</text>
<line x1="418.20" y1="219.60" x2="418.20" y2="213.69" stroke="#231f20" stroke-width="0.8"/>
<line x1="416.45" y1="213.69" x2="419.95" y2="213.69" stroke="#231f20" stroke-width="0.8"/>
<line x1="418.20" y1="219.60" x2="418.20" y2="225.51" stroke="#231f20" stroke-width="0.8"/>
<line x1="416.45" y1="225.51" x2="419.95" y2="225.51" stroke="#231f20" stroke-width="0.8"/>
<line x1="447.00" y1="219.60" x2="447.00" y2="217.91" stroke="#231f20" stroke-width="0.8"/>
<line x1="445.25" y1="217.91" x2="448.75" y2="217.91" stroke="#231f20" stroke-width="0.8"/>
<line x1="447.00" y1="219.60" x2="447.00" y2="221.29" stroke="#231f20" stroke-width="0.8"/>
<line x1="445.25" y1="221.29" x2="448.75" y2="221.29" stroke="#231f20" stroke-width="0.8"/>
<line x1="475.80" y1="219.60" x2="475.80" y2="217.91" stroke="#231f20" stroke-width="0.8"/>
<line x1="474.05" y1="217.91" x2="477.55" y2="217.91" stroke="#231f20" stroke-width="0.8"/>
<line x1="475.80" y1="219.60" x2="475.80" y2="221.29" stroke="#231f20" stroke-width="0.8"/>
<line x1="474.05" y1="221.29" x2="477.55" y2="221.29" stroke="#231f20" stroke-width="0.8"/>
<line x1="418.20" y1="201.01" x2="418.20" y2="195.09" stroke="#231f20" stroke-width="0.8"/>
<line x1="416.45" y1="195.09" x2="419.95" y2="195.09" stroke="#231f20" stroke-width="0.8"/>
<line x1="418.20" y1="201.01" x2="418.20" y2="206.93" stroke="#231f20" stroke-width="0.8"/>
<line x1="416.45" y1="206.93" x2="419.95" y2="206.93" stroke="#231f20" stroke-width="0.8"/>
<line x1="447.00" y1="196.78" x2="447.00" y2="192.56" stroke="#231f20" stroke-width="0.8"/>
<line x1="445.25" y1="192.56" x2="448.75" y2="192.56" stroke="#231f20" stroke-width="0.8"/>
<line x1="447.00" y1="196.78" x2="447.00" y2="201.01" stroke="#231f20" stroke-width="0.8"/>
<line x1="445.25" y1="201.01" x2="448.75" y2="201.01" stroke="#231f20" stroke-width="0.8"/>
<line x1="447.00" y1="204.39" x2="447.00" y2="201.85" stroke="#231f20" stroke-width="0.8"/>
<line x1="445.25" y1="201.85" x2="448.75" y2="201.85" stroke="#231f20" stroke-width="0.8"/>
<line x1="447.00" y1="204.39" x2="447.00" y2="206.93" stroke="#231f20" stroke-width="0.8"/>
<line x1="445.25" y1="206.93" x2="448.75" y2="206.93" stroke="#231f20" stroke-width="0.8"/>
<line x1="475.80" y1="205.66" x2="475.80" y2="204.39" stroke="#231f20" stroke-width="0.8"/>
<line x1="474.05" y1="204.39" x2="477.55" y2="204.39" stroke="#231f20" stroke-width="0.8"/>
<line x1="475.80" y1="205.66" x2="475.80" y2="206.92" stroke="#231f20" stroke-width="0.8"/>
<line x1="474.05" y1="206.92" x2="477.55" y2="206.92" stroke="#231f20" stroke-width="0.8"/>
<line x1="475.80" y1="214.53" x2="475.80" y2="213.26" stroke="#231f20" stroke-width="0.8"/>
<line x1="474.05" y1="213.26" x2="477.55" y2="213.26" stroke="#231f20" stroke-width="0.8"/>
<line x1="475.80" y1="214.53" x2="475.80" y2="215.80" stroke="#231f20" stroke-width="0.8"/>
<line x1="474.05" y1="215.80" x2="477.55" y2="215.80" stroke="#231f20" stroke-width="0.8"/>
<polyline points="418.20,219.60 447.00,219.60 475.80,219.60" fill="none" stroke="#7dc142" stroke-width="1.3"/>
<polyline points="418.20,198.90 447.00,204.39 475.80,214.53" fill="none" stroke="#a8002c" stroke-width="1.3"/>
<polyline points="418.20,201.01 447.00,196.78 475.80,205.66" fill="none" stroke="#2c4a82" stroke-width="1.3"/>
<circle cx="418.20" cy="198.90" r="2.0" fill="#a8002c" stroke="#231f20" stroke-width="1.0"/>
<circle cx="447.00" cy="204.39" r="2.0" fill="#a8002c" stroke="#231f20" stroke-width="1.0"/>
<circle cx="475.80" cy="214.53" r="2.0" fill="#a8002c" stroke="#231f20" stroke-width="1.0"/>
<circle cx="418.20" cy="201.01" r="2.0" fill="#2c4a82" stroke="#231f20" stroke-width="1.0"/>
<circle cx="447.00" cy="196.78" r="2.0" fill="#2c4a82" stroke="#231f20" stroke-width="1.0"/>
<circle cx="475.80" cy="205.66" r="2.0" fill="#2c4a82" stroke="#231f20" stroke-width="1.0"/>
<circle cx="418.20" cy="219.60" r="2.0" fill="#7dc142" stroke="#231f20" stroke-width="1.0"/>
<circle cx="447.00" cy="219.60" r="2.0" fill="#7dc142" stroke="#231f20" stroke-width="1.0"/>
<circle cx="475.80" cy="219.60" r="2.0" fill="#7dc142" stroke="#231f20" stroke-width="1.0"/>
<text x="418.20" y="190.90" font-size="8.6" text-anchor="middle" font-style="italic" fill="#414042" textLength="3.50" lengthAdjust="spacingAndGlyphs">#</text>
<text x="447.00" y="182.60" font-size="7.0" text-anchor="middle" fill="#231f20" textLength="6.60" lengthAdjust="spacingAndGlyphs">**</text>
<text x="447.00" y="189.00" font-size="8.6" text-anchor="middle" font-style="italic" fill="#414042" textLength="3.50" lengthAdjust="spacingAndGlyphs">#</text>
<text x="475.80" y="194.20" font-size="7.0" text-anchor="middle" fill="#231f20" textLength="6.60" lengthAdjust="spacingAndGlyphs">**</text>
<text x="475.80" y="200.50" font-size="8.6" text-anchor="middle" font-style="italic" fill="#414042" textLength="3.50" lengthAdjust="spacingAndGlyphs">#</text>
<text x="85.90" y="298.20" font-size="8.27" text-anchor="middle" fill="#2b2b2b" textLength="62.00" lengthAdjust="spacingAndGlyphs">HSPCs transduced</text>
<text x="85.75" y="306.90" font-size="8.27" text-anchor="middle" fill="#2b2b2b" textLength="48.50" lengthAdjust="spacingAndGlyphs">with control or</text>
<text x="86.50" y="315.80" font-size="8.27" text-anchor="middle" fill="#2b2b2b" textLength="53.00" lengthAdjust="spacingAndGlyphs"><tspan font-style="italic">Gprasp</tspan>-shRNAs</text>
<text x="24.60" y="320.80" font-size="8.16" fill="#2b2b2b" textLength="29.20" lengthAdjust="spacingAndGlyphs">CD45.2<tspan font-size="4.8" dy="-3">+</tspan></text>
<line x1="18.80" y1="331.50" x2="28.30" y2="331.50" stroke="#231f20" stroke-width="1.1"/>
<path d="M27.60,331.50 C30.80,327.50 34.30,323.80 38.80,323.80 C41.80,323.80 44.30,325.30 45.40,326.00 C45.80,324.30 47.10,323.90 48.10,324.00 C50.30,324.20 52.00,325.70 51.70,327.30 C51.50,329.00 51.00,330.50 50.40,331.50 Z" fill="#b6d68d" stroke="none"/>
<path d="M27.60,331.50 C30.80,327.50 34.30,323.80 38.80,323.80 C41.80,323.80 44.30,325.30 45.40,326.00 C45.80,324.30 47.10,323.90 48.10,324.00 C50.30,324.20 52.00,325.70 51.70,327.30 C51.50,329.00 51.00,330.50 50.40,331.50" fill="none" stroke="#231f20" stroke-width="1.0"/>
<path d="M45.40,326.00 C45.40,327.50 45.80,328.70 47.00,328.90" fill="none" stroke="#231f20" stroke-width="0.8"/>
<line x1="48.40" y1="335.30" x2="54.60" y2="327.60" stroke="#231f20" stroke-width="1.5"/>
<line x1="56.90" y1="329.30" x2="63.70" y2="329.30" stroke="#231f20" stroke-width="1.4"/>
<path d="M62.40,326.80 L67.20,329.30 L62.40,331.80 Z" fill="#231f20"/>
<ellipse cx="71.20" cy="329.60" rx="2.6" ry="3.6" fill="#b6d68d" stroke="#231f20" stroke-width="1.0"/>
<ellipse cx="77.40" cy="324.20" rx="2.6" ry="3.6" fill="#b6d68d" stroke="#231f20" stroke-width="1.0"/>
<ellipse cx="77.40" cy="334.50" rx="2.6" ry="3.6" fill="#b6d68d" stroke="#231f20" stroke-width="1.0"/>
<line x1="80.80" y1="329.30" x2="87.50" y2="329.30" stroke="#231f20" stroke-width="1.4"/>
<path d="M86.20,326.80 L91.00,329.30 L86.20,331.80 Z" fill="#231f20"/>
<ellipse cx="95.40" cy="329.60" rx="2.6" ry="3.6" fill="#b6d68d" stroke="#231f20" stroke-width="1.0"/>
<ellipse cx="102.60" cy="323.90" rx="2.6" ry="3.6" fill="#d9877a" stroke="#231f20" stroke-width="1.0"/>
<ellipse cx="102.60" cy="333.50" rx="2.6" ry="3.6" fill="#d9877a" stroke="#231f20" stroke-width="1.0"/>
<line x1="106.20" y1="329.30" x2="114.20" y2="329.30" stroke="#231f20" stroke-width="1.4"/>
<path d="M112.90,326.80 L117.70,329.30 L112.90,331.80 Z" fill="#231f20"/>
<text x="127.60" y="323.50" font-size="8.2" text-anchor="middle" fill="#2b2b2b" textLength="12.20" lengthAdjust="spacingAndGlyphs" transform="rotate(-90 127.60 323.50)">FSC</text>
<rect x="131.9" y="305.7" width="35.5" height="35.8" fill="none" stroke="#231f20" stroke-width="1.1"/>
<rect x="149.6" y="322.8" width="15.9" height="17.5" fill="none" stroke="#231f20" stroke-width="0.9"/>
<ellipse cx="157.8" cy="331.5" rx="6.6" ry="7.6" fill="#d9877a" stroke="#231f20" stroke-width="1"/>
<ellipse cx="139.6" cy="335.0" rx="2.8" ry="3.7" fill="#b6d68d" stroke="#231f20" stroke-width="0.8"/>
<text x="149.50" y="351.00" font-size="8.16" text-anchor="middle" fill="#2b2b2b" textLength="28.00" lengthAdjust="spacingAndGlyphs">mCherry</text>
<line x1="171.20" y1="328.50" x2="174.70" y2="328.50" stroke="#231f20" stroke-width="1.4"/>
<path d="M173.40,326.00 L178.20,328.50 L173.40,331.00 Z" fill="#231f20"/>
<text x="179.50" y="307.00" font-size="8.16" fill="#2b2b2b" textLength="36.70" lengthAdjust="spacingAndGlyphs">CD45.1/2<tspan font-size="4.8" dy="-3">+</tspan></text>
<defs><linearGradient id="mg" x1="0" y1="0" x2="0.75" y2="1"><stop offset="0" stop-color="#b6d68d"/><stop offset="0.35" stop-color="#c9b384"/><stop offset="0.6" stop-color="#d9877a"/><stop offset="1" stop-color="#d9877a"/></linearGradient></defs>
<line x1="179.20" y1="331.80" x2="213.00" y2="331.80" stroke="#6d6e71" stroke-width="1.2"/>
<line x1="179.20" y1="331.80" x2="188.70" y2="331.80" stroke="#231f20" stroke-width="1.1"/>
<path d="M188.00,331.80 C191.20,327.80 194.70,324.10 199.20,324.10 C202.20,324.10 204.70,325.60 205.80,326.30 C206.20,324.60 207.50,324.20 208.50,324.30 C210.70,324.50 212.40,326.00 212.10,327.60 C211.90,329.30 211.40,330.80 210.80,331.80 Z" fill="url(#mg)" stroke="none"/>
<path d="M188.00,331.80 C191.20,327.80 194.70,324.10 199.20,324.10 C202.20,324.10 204.70,325.60 205.80,326.30 C206.20,324.60 207.50,324.20 208.50,324.30 C210.70,324.50 212.40,326.00 212.10,327.60 C211.90,329.30 211.40,330.80 210.80,331.80" fill="none" stroke="#231f20" stroke-width="1.0"/>
<path d="M205.80,326.30 C205.80,327.80 206.20,329.00 207.40,329.20" fill="none" stroke="#231f20" stroke-width="0.8"/>
<line x1="208.80" y1="335.60" x2="215.00" y2="327.90" stroke="#231f20" stroke-width="1.5"/>
<g transform="translate(184.8,330.4) rotate(-24.7)"><line x1="0" y1="0" x2="0" y2="-5" stroke="#231f20" stroke-width="0.6"/><rect x="-1.7" y="-12.5" width="3.4" height="7.5" fill="#fff" stroke="#231f20" stroke-width="0.9"/><rect x="-1.7" y="-12.5" width="3.4" height="3.5" fill="#231f20"/><line x1="-3" y1="-12.5" x2="3" y2="-12.5" stroke="#231f20" stroke-width="1.2"/><line x1="0" y1="-12.5" x2="0" y2="-18.5" stroke="#231f20" stroke-width="1.6"/><line x1="-2.6" y1="-19.2" x2="2.6" y2="-19.2" stroke="#231f20" stroke-width="1.5"/></g>
<g transform="translate(205.2,323.5) rotate(45)"><line x1="0" y1="0" x2="0" y2="-3" stroke="#231f20" stroke-width="0.7"/><path d="M-1.9,-3 L1.9,-3 L1.9,-12.5 L0,-15.5 L-1.9,-12.5 Z" fill="#fff" stroke="#231f20" stroke-width="0.9"/><line x1="-1.9" y1="-8" x2="1.9" y2="-9.5" stroke="#231f20" stroke-width="0.6"/></g>
<line x1="219.20" y1="328.50" x2="224.40" y2="328.50" stroke="#231f20" stroke-width="1.4"/>
<path d="M223.10,326.00 L227.90,328.50 L223.10,331.00 Z" fill="#231f20"/>
<text x="230.30" y="314.20" font-size="8.32" fill="#2b2b2b" textLength="98.40" lengthAdjust="spacingAndGlyphs">CD45.2<tspan font-size="4.8" dy="-3">+</tspan><tspan dy="3">mCherry</tspan><tspan font-size="4.8" dy="-3">+</tspan><tspan dy="3"> BM HSPCs</tspan></text>
<text x="278.95" y="323.60" font-size="8.27" text-anchor="middle" fill="#2b2b2b" textLength="84.70" lengthAdjust="spacingAndGlyphs">frequency, apoptosis and</text>
<text x="278.95" y="332.70" font-size="8.27" text-anchor="middle" fill="#2b2b2b" textLength="93.10" lengthAdjust="spacingAndGlyphs">cell cycle analysis 10 and 20</text>
<text x="278.95" y="341.10" font-size="8.27" text-anchor="middle" fill="#2b2b2b" textLength="67.70" lengthAdjust="spacingAndGlyphs">days after transplant</text>
<text x="60.90" y="376.30" font-size="10.3" fill="#2b2b2b" textLength="100.00" lengthAdjust="spacingAndGlyphs">10 days after transplant</text>
<text x="249.50" y="376.70" font-size="10.3" fill="#2b2b2b" textLength="101.50" lengthAdjust="spacingAndGlyphs">20 days after transplant</text>
<rect x="43.70" y="389.20" width="7.70" height="4.80" fill="#6aab45"/>
<text x="54.50" y="394.20" font-size="8.27" fill="#2b2b2b" textLength="50.10" lengthAdjust="spacingAndGlyphs">Control shRNA</text>
<rect x="113.50" y="389.20" width="7.20" height="4.80" fill="#2c4a82"/>
<text x="124.40" y="394.20" font-size="8.27" fill="#2b2b2b" textLength="53.60" lengthAdjust="spacingAndGlyphs"><tspan font-style="italic">Gprasp1</tspan> shRNA</text>
<rect x="113.50" y="400.50" width="7.20" height="4.80" fill="#a8002c"/>
<text x="124.40" y="404.50" font-size="8.27" fill="#2b2b2b" textLength="53.90" lengthAdjust="spacingAndGlyphs"><tspan font-style="italic">Gprasp2 shRNA</tspan></text>
<rect x="233.30" y="389.60" width="6.50" height="4.80" fill="#6aab45"/>
<text x="243.80" y="394.60" font-size="8.27" fill="#2b2b2b" textLength="49.80" lengthAdjust="spacingAndGlyphs">Control shRNA</text>
<rect x="303.10" y="389.60" width="7.20" height="4.80" fill="#2c4a82"/>
<text x="313.30" y="394.60" font-size="8.27" fill="#2b2b2b" textLength="53.70" lengthAdjust="spacingAndGlyphs"><tspan font-style="italic">Gprasp1</tspan> shRNA</text>
<rect x="303.10" y="401.00" width="7.20" height="4.80" fill="#a8002c"/>
<text x="313.30" y="405.00" font-size="8.27" fill="#2b2b2b" textLength="53.70" lengthAdjust="spacingAndGlyphs"><tspan font-style="italic">Gprasp2</tspan> shRNA</text>
<line x1="49.60" y1="412.30" x2="49.60" y2="484.90" stroke="#111" stroke-width="1.5"/>
<line x1="46.40" y1="484.40" x2="49.60" y2="484.40" stroke="#111" stroke-width="1.2"/>
<line x1="46.40" y1="470.50" x2="49.60" y2="470.50" stroke="#111" stroke-width="1.2"/>
<line x1="46.40" y1="456.60" x2="49.60" y2="456.60" stroke="#111" stroke-width="1.2"/>
<line x1="46.40" y1="442.70" x2="49.60" y2="442.70" stroke="#111" stroke-width="1.2"/>
<line x1="46.40" y1="428.80" x2="49.60" y2="428.80" stroke="#111" stroke-width="1.2"/>
<line x1="46.40" y1="414.90" x2="49.60" y2="414.90" stroke="#111" stroke-width="1.2"/>
<line x1="47.80" y1="477.45" x2="49.60" y2="477.45" stroke="#111" stroke-width="1.1"/>
<line x1="47.80" y1="463.55" x2="49.60" y2="463.55" stroke="#111" stroke-width="1.1"/>
<line x1="47.80" y1="449.65" x2="49.60" y2="449.65" stroke="#111" stroke-width="1.1"/>
<line x1="47.80" y1="435.75" x2="49.60" y2="435.75" stroke="#111" stroke-width="1.1"/>
<line x1="47.80" y1="421.85" x2="49.60" y2="421.85" stroke="#111" stroke-width="1.1"/>
<line x1="49.10" y1="484.40" x2="172.00" y2="484.40" stroke="#111" stroke-width="1.5"/>
<text x="42.70" y="487.40" font-size="8.53" text-anchor="end" fill="#2b2b2b" textLength="11.20" lengthAdjust="spacingAndGlyphs">0.0</text>
<text x="42.70" y="473.50" font-size="8.53" text-anchor="end" fill="#2b2b2b" textLength="11.20" lengthAdjust="spacingAndGlyphs">0.5</text>
<text x="42.70" y="459.60" font-size="8.53" text-anchor="end" fill="#2b2b2b" textLength="11.20" lengthAdjust="spacingAndGlyphs">1.0</text>
<text x="42.70" y="445.70" font-size="8.53" text-anchor="end" fill="#2b2b2b" textLength="11.20" lengthAdjust="spacingAndGlyphs">1.5</text>
<text x="42.70" y="431.80" font-size="8.53" text-anchor="end" fill="#2b2b2b" textLength="11.20" lengthAdjust="spacingAndGlyphs">2.0</text>
<text x="42.70" y="417.90" font-size="8.53" text-anchor="end" fill="#2b2b2b" textLength="11.20" lengthAdjust="spacingAndGlyphs">2.5</text>
<line x1="55.25" y1="456.60" x2="55.25" y2="451.04" stroke="#6d6e71" stroke-width="1.1"/>
<line x1="54.05" y1="451.34" x2="56.45" y2="451.34" stroke="#231f20" stroke-width="1.3"/>
<rect x="52.70" y="456.60" width="5.10" height="27.80" fill="#6aab45" stroke="#5a9a3a" stroke-width="0.5"/>
<line x1="62.60" y1="467.16" x2="62.60" y2="460.49" stroke="#6d6e71" stroke-width="1.1"/>
<line x1="61.40" y1="460.79" x2="63.80" y2="460.79" stroke="#231f20" stroke-width="1.3"/>
<rect x="60.20" y="467.16" width="4.80" height="17.24" fill="#2c4a82" stroke="#1f3a6e" stroke-width="0.5"/>
<line x1="69.35" y1="467.72" x2="69.35" y2="465.22" stroke="#6d6e71" stroke-width="1.1"/>
<line x1="68.15" y1="465.52" x2="70.55" y2="465.52" stroke="#231f20" stroke-width="1.3"/>
<rect x="66.90" y="467.72" width="4.90" height="16.68" fill="#a8002c" stroke="#8a0022" stroke-width="0.5"/>
<line x1="87.70" y1="456.60" x2="87.70" y2="448.54" stroke="#6d6e71" stroke-width="1.1"/>
<line x1="86.50" y1="448.84" x2="88.90" y2="448.84" stroke="#231f20" stroke-width="1.3"/>
<rect x="85.20" y="456.60" width="5.00" height="27.80" fill="#6aab45" stroke="#5a9a3a" stroke-width="0.5"/>
<line x1="94.75" y1="469.67" x2="94.75" y2="464.11" stroke="#6d6e71" stroke-width="1.1"/>
<line x1="93.55" y1="464.41" x2="95.95" y2="464.41" stroke="#231f20" stroke-width="1.3"/>
<rect x="92.40" y="469.67" width="4.70" height="14.73" fill="#2c4a82" stroke="#1f3a6e" stroke-width="0.5"/>
<line x1="101.65" y1="468.83" x2="101.65" y2="465.50" stroke="#6d6e71" stroke-width="1.1"/>
<line x1="100.45" y1="465.80" x2="102.85" y2="465.80" stroke="#231f20" stroke-width="1.3"/>
<rect x="99.20" y="468.83" width="4.90" height="15.57" fill="#a8002c" stroke="#8a0022" stroke-width="0.5"/>
<line x1="119.95" y1="456.60" x2="119.95" y2="449.65" stroke="#6d6e71" stroke-width="1.1"/>
<line x1="118.75" y1="449.95" x2="121.15" y2="449.95" stroke="#231f20" stroke-width="1.3"/>
<rect x="117.50" y="456.60" width="4.90" height="27.80" fill="#6aab45" stroke="#5a9a3a" stroke-width="0.5"/>
<line x1="127.10" y1="449.65" x2="127.10" y2="439.09" stroke="#6d6e71" stroke-width="1.1"/>
<line x1="125.90" y1="439.39" x2="128.30" y2="439.39" stroke="#231f20" stroke-width="1.3"/>
<rect x="124.80" y="449.65" width="4.60" height="34.75" fill="#2c4a82" stroke="#1f3a6e" stroke-width="0.5"/>
<line x1="134.10" y1="462.99" x2="134.10" y2="459.94" stroke="#6d6e71" stroke-width="1.1"/>
<line x1="132.90" y1="460.24" x2="135.30" y2="460.24" stroke="#231f20" stroke-width="1.3"/>
<rect x="131.80" y="462.99" width="4.60" height="21.41" fill="#a8002c" stroke="#8a0022" stroke-width="0.5"/>
<line x1="152.30" y1="456.60" x2="152.30" y2="448.26" stroke="#6d6e71" stroke-width="1.1"/>
<line x1="151.10" y1="448.56" x2="153.50" y2="448.56" stroke="#231f20" stroke-width="1.3"/>
<rect x="149.90" y="456.60" width="4.80" height="27.80" fill="#6aab45" stroke="#5a9a3a" stroke-width="0.5"/>
<line x1="159.40" y1="436.58" x2="159.40" y2="420.18" stroke="#6d6e71" stroke-width="1.1"/>
<line x1="158.20" y1="420.48" x2="160.60" y2="420.48" stroke="#231f20" stroke-width="1.3"/>
<rect x="157.10" y="436.58" width="4.60" height="47.82" fill="#2c4a82" stroke="#1f3a6e" stroke-width="0.5"/>
<line x1="166.55" y1="470.22" x2="166.55" y2="468.83" stroke="#6d6e71" stroke-width="1.1"/>
<line x1="165.35" y1="469.13" x2="167.75" y2="469.13" stroke="#231f20" stroke-width="1.3"/>
<rect x="164.10" y="470.22" width="4.90" height="14.18" fill="#a8002c" stroke="#8a0022" stroke-width="0.5"/>
<text x="62.50" y="493.90" font-size="8.48" text-anchor="middle" fill="#2b2b2b" textLength="25.00" lengthAdjust="spacingAndGlyphs">LT-HSC</text>
<text x="94.50" y="493.90" font-size="8.48" text-anchor="middle" fill="#2b2b2b" textLength="25.60" lengthAdjust="spacingAndGlyphs">ST-HSC</text>
<text x="127.10" y="493.90" font-size="8.48" text-anchor="middle" fill="#2b2b2b" textLength="20.80" lengthAdjust="spacingAndGlyphs">MPP2</text>
<text x="159.50" y="493.90" font-size="8.48" text-anchor="middle" fill="#2b2b2b" textLength="29.00" lengthAdjust="spacingAndGlyphs">MPP3/4</text>
<text x="15.00" y="448.20" font-size="8.8" text-anchor="middle" fill="#2b2b2b" textLength="68.50" lengthAdjust="spacingAndGlyphs" transform="rotate(-90 15.00 448.20)">Apoptosis normalized</text>
<text x="26.60" y="448.20" font-size="8.8" text-anchor="middle" fill="#2b2b2b" textLength="56.80" lengthAdjust="spacingAndGlyphs" transform="rotate(-90 26.60 448.20)">to control shRNA</text>
<line x1="237.30" y1="410.80" x2="237.30" y2="484.90" stroke="#111" stroke-width="1.5"/>
<line x1="234.10" y1="484.40" x2="237.30" y2="484.40" stroke="#111" stroke-width="1.2"/>
<line x1="234.10" y1="460.75" x2="237.30" y2="460.75" stroke="#111" stroke-width="1.2"/>
<line x1="234.10" y1="437.10" x2="237.30" y2="437.10" stroke="#111" stroke-width="1.2"/>
<line x1="234.10" y1="413.45" x2="237.30" y2="413.45" stroke="#111" stroke-width="1.2"/>
<line x1="235.50" y1="472.57" x2="237.30" y2="472.57" stroke="#111" stroke-width="1.1"/>
<line x1="235.50" y1="448.92" x2="237.30" y2="448.92" stroke="#111" stroke-width="1.1"/>
<line x1="235.50" y1="425.27" x2="237.30" y2="425.27" stroke="#111" stroke-width="1.1"/>
<line x1="236.80" y1="484.40" x2="363.30" y2="484.40" stroke="#111" stroke-width="1.5"/>
<text x="231.50" y="487.40" font-size="8.53" text-anchor="end" fill="#2b2b2b" textLength="11.20" lengthAdjust="spacingAndGlyphs">0.0</text>
<text x="231.50" y="463.75" font-size="8.53" text-anchor="end" fill="#2b2b2b" textLength="11.20" lengthAdjust="spacingAndGlyphs">0.5</text>
<text x="231.50" y="440.10" font-size="8.53" text-anchor="end" fill="#2b2b2b" textLength="11.20" lengthAdjust="spacingAndGlyphs">1.0</text>
<text x="231.50" y="416.45" font-size="8.53" text-anchor="end" fill="#2b2b2b" textLength="11.20" lengthAdjust="spacingAndGlyphs">1.5</text>
<line x1="243.75" y1="437.10" x2="243.75" y2="432.37" stroke="#6d6e71" stroke-width="1.1"/>
<line x1="242.55" y1="432.67" x2="244.95" y2="432.67" stroke="#231f20" stroke-width="1.3"/>
<rect x="241.30" y="437.10" width="4.90" height="47.30" fill="#6aab45" stroke="#5a9a3a" stroke-width="0.5"/>
<line x1="250.60" y1="466.19" x2="250.60" y2="462.17" stroke="#6d6e71" stroke-width="1.1"/>
<line x1="249.40" y1="462.47" x2="251.80" y2="462.47" stroke="#231f20" stroke-width="1.3"/>
<rect x="248.30" y="466.19" width="4.60" height="18.21" fill="#2c4a82" stroke="#1f3a6e" stroke-width="0.5"/>
<line x1="258.00" y1="457.91" x2="258.00" y2="455.07" stroke="#6d6e71" stroke-width="1.1"/>
<line x1="256.80" y1="455.37" x2="259.20" y2="455.37" stroke="#231f20" stroke-width="1.3"/>
<rect x="255.60" y="457.91" width="4.80" height="26.49" fill="#a8002c" stroke="#8a0022" stroke-width="0.5"/>
<line x1="276.30" y1="437.10" x2="276.30" y2="428.11" stroke="#6d6e71" stroke-width="1.1"/>
<line x1="275.10" y1="428.41" x2="277.50" y2="428.41" stroke="#231f20" stroke-width="1.3"/>
<rect x="273.90" y="437.10" width="4.80" height="47.30" fill="#6aab45" stroke="#5a9a3a" stroke-width="0.5"/>
<line x1="283.60" y1="456.02" x2="283.60" y2="449.87" stroke="#6d6e71" stroke-width="1.1"/>
<line x1="282.40" y1="450.17" x2="284.80" y2="450.17" stroke="#231f20" stroke-width="1.3"/>
<rect x="281.20" y="456.02" width="4.80" height="28.38" fill="#2c4a82" stroke="#1f3a6e" stroke-width="0.5"/>
<line x1="291.10" y1="453.65" x2="291.10" y2="448.92" stroke="#6d6e71" stroke-width="1.1"/>
<line x1="289.90" y1="449.22" x2="292.30" y2="449.22" stroke="#231f20" stroke-width="1.3"/>
<rect x="288.70" y="453.65" width="4.80" height="30.75" fill="#a8002c" stroke="#8a0022" stroke-width="0.5"/>
<line x1="309.30" y1="437.10" x2="309.30" y2="432.37" stroke="#6d6e71" stroke-width="1.1"/>
<line x1="308.10" y1="432.67" x2="310.50" y2="432.67" stroke="#231f20" stroke-width="1.3"/>
<rect x="307.00" y="437.10" width="4.60" height="47.30" fill="#6aab45" stroke="#5a9a3a" stroke-width="0.5"/>
<line x1="316.45" y1="460.28" x2="316.45" y2="454.13" stroke="#6d6e71" stroke-width="1.1"/>
<line x1="315.25" y1="454.43" x2="317.65" y2="454.43" stroke="#231f20" stroke-width="1.3"/>
<rect x="314.00" y="460.28" width="4.90" height="24.12" fill="#2c4a82" stroke="#1f3a6e" stroke-width="0.5"/>
<line x1="323.85" y1="440.88" x2="323.85" y2="433.32" stroke="#6d6e71" stroke-width="1.1"/>
<line x1="322.65" y1="433.62" x2="325.05" y2="433.62" stroke="#231f20" stroke-width="1.3"/>
<rect x="321.30" y="440.88" width="5.10" height="43.52" fill="#a8002c" stroke="#8a0022" stroke-width="0.5"/>
<line x1="342.30" y1="437.10" x2="342.30" y2="428.59" stroke="#6d6e71" stroke-width="1.1"/>
<line x1="341.10" y1="428.89" x2="343.50" y2="428.89" stroke="#231f20" stroke-width="1.3"/>
<rect x="339.90" y="437.10" width="4.80" height="47.30" fill="#6aab45" stroke="#5a9a3a" stroke-width="0.5"/>
<line x1="349.55" y1="458.86" x2="349.55" y2="451.76" stroke="#6d6e71" stroke-width="1.1"/>
<line x1="348.35" y1="452.06" x2="350.75" y2="452.06" stroke="#231f20" stroke-width="1.3"/>
<rect x="347.10" y="458.86" width="4.90" height="25.54" fill="#2c4a82" stroke="#1f3a6e" stroke-width="0.5"/>
<line x1="356.80" y1="443.72" x2="356.80" y2="434.73" stroke="#6d6e71" stroke-width="1.1"/>
<line x1="355.60" y1="435.03" x2="358.00" y2="435.03" stroke="#231f20" stroke-width="1.3"/>
<rect x="354.40" y="443.72" width="4.80" height="40.68" fill="#a8002c" stroke="#8a0022" stroke-width="0.5"/>
<text x="250.45" y="493.90" font-size="8.48" text-anchor="middle" fill="#2b2b2b" textLength="24.70" lengthAdjust="spacingAndGlyphs">LT-HSC</text>
<text x="283.20" y="493.90" font-size="8.48" text-anchor="middle" fill="#2b2b2b" textLength="25.60" lengthAdjust="spacingAndGlyphs">ST-HSC</text>
<text x="316.55" y="493.90" font-size="8.48" text-anchor="middle" fill="#2b2b2b" textLength="19.70" lengthAdjust="spacingAndGlyphs">MPP2</text>
<text x="349.80" y="493.90" font-size="8.48" text-anchor="middle" fill="#2b2b2b" textLength="29.60" lengthAdjust="spacingAndGlyphs">MPP3/4</text>
<text x="202.70" y="447.40" font-size="8.8" text-anchor="middle" fill="#2b2b2b" textLength="67.30" lengthAdjust="spacingAndGlyphs" transform="rotate(-90 202.70 447.40)">Apoptosis normalized</text>
<text x="214.20" y="447.40" font-size="8.8" text-anchor="middle" fill="#2b2b2b" textLength="55.80" lengthAdjust="spacingAndGlyphs" transform="rotate(-90 214.20 447.40)">to control shRNA</text>
<line x1="240.60" y1="421.90" x2="260.80" y2="421.90" stroke="#58595b" stroke-width="1.2"/>
<text x="251.20" y="422.00" font-size="7.0" text-anchor="middle" fill="#231f20" textLength="6.60" lengthAdjust="spacingAndGlyphs">**</text>
<line x1="240.60" y1="429.60" x2="252.10" y2="429.60" stroke="#58595b" stroke-width="1.2"/>
<text x="246.50" y="429.00" font-size="7.0" text-anchor="middle" fill="#231f20" textLength="9.90" lengthAdjust="spacingAndGlyphs">***</text>
<line x1="274.40" y1="426.70" x2="286.50" y2="426.70" stroke="#58595b" stroke-width="1.0"/>
<text x="280.40" y="426.30" font-size="7.0" text-anchor="middle" fill="#231f20" textLength="3.30" lengthAdjust="spacingAndGlyphs">*</text>
<line x1="307.30" y1="426.70" x2="318.30" y2="426.70" stroke="#58595b" stroke-width="1.0"/>
<text x="312.80" y="426.30" font-size="7.0" text-anchor="middle" fill="#231f20" textLength="6.60" lengthAdjust="spacingAndGlyphs">**</text>
<line x1="340.40" y1="426.70" x2="351.70" y2="426.70" stroke="#58595b" stroke-width="1.0"/>
<text x="346.00" y="426.30" font-size="7.0" text-anchor="middle" fill="#231f20" textLength="3.30" lengthAdjust="spacingAndGlyphs">*</text>
<text x="63.70" y="519.80" font-size="10.3" fill="#2b2b2b" textLength="100.70" lengthAdjust="spacingAndGlyphs">10 days after transplant</text>
<text x="250.90" y="519.80" font-size="10.3" fill="#2b2b2b" textLength="100.70" lengthAdjust="spacingAndGlyphs">20 days after transplant</text>
<rect x="64.80" y="532.70" width="7.40" height="4.20" fill="#3b6e55"/>
<text x="75.50" y="537.30" font-size="8.27" fill="#2b2b2b" textLength="27.00" lengthAdjust="spacingAndGlyphs">S/G2/M</text>
<rect x="110.00" y="532.70" width="7.40" height="4.20" fill="#e1911c"/>
<text x="120.80" y="537.30" font-size="8.27" fill="#2b2b2b" textLength="10.20" lengthAdjust="spacingAndGlyphs">G1</text>
<rect x="141.80" y="532.70" width="7.40" height="4.20" fill="#50215f"/>
<text x="151.70" y="537.30" font-size="8.27" fill="#2b2b2b" textLength="10.80" lengthAdjust="spacingAndGlyphs">G0</text>
<rect x="252.50" y="532.70" width="7.40" height="4.20" fill="#3b6e55"/>
<text x="263.80" y="537.30" font-size="8.27" fill="#2b2b2b" textLength="28.30" lengthAdjust="spacingAndGlyphs">S/G2/M</text>
<rect x="297.50" y="532.70" width="7.40" height="4.20" fill="#e1911c"/>
<text x="308.30" y="537.30" font-size="8.27" fill="#2b2b2b" textLength="10.70" lengthAdjust="spacingAndGlyphs">G1</text>
<rect x="328.50" y="532.70" width="7.40" height="4.20" fill="#50215f"/>
<text x="339.80" y="537.30" font-size="8.27" fill="#2b2b2b" textLength="10.70" lengthAdjust="spacingAndGlyphs">G0</text>
<line x1="49.90" y1="542.90" x2="49.90" y2="615.60" stroke="#111" stroke-width="1.5"/>
<line x1="46.70" y1="615.10" x2="49.90" y2="615.10" stroke="#111" stroke-width="1.2"/>
<line x1="46.70" y1="584.95" x2="49.90" y2="584.95" stroke="#111" stroke-width="1.2"/>
<line x1="46.70" y1="554.80" x2="49.90" y2="554.80" stroke="#111" stroke-width="1.2"/>
<line x1="48.10" y1="600.02" x2="49.90" y2="600.02" stroke="#111" stroke-width="1.1"/>
<line x1="48.10" y1="569.88" x2="49.90" y2="569.88" stroke="#111" stroke-width="1.1"/>
<line x1="49.40" y1="615.40" x2="178.00" y2="615.40" stroke="#111" stroke-width="1.5"/>
<text x="42.70" y="618.10" font-size="8.53" text-anchor="end" fill="#2b2b2b" textLength="4.70" lengthAdjust="spacingAndGlyphs">0</text>
<text x="42.70" y="587.95" font-size="8.53" text-anchor="end" fill="#2b2b2b" textLength="9.40" lengthAdjust="spacingAndGlyphs">50</text>
<text x="42.70" y="557.80" font-size="8.53" text-anchor="end" fill="#2b2b2b" textLength="14.10" lengthAdjust="spacingAndGlyphs">100</text>
<rect x="50.80" y="583.92" width="4.50" height="31.18" fill="#50215f"/>
<rect x="50.80" y="573.73" width="4.50" height="10.19" fill="#e1911c"/>
<rect x="50.80" y="554.80" width="4.50" height="18.93" fill="#3b6e55"/>
<line x1="53.05" y1="583.92" x2="53.05" y2="580.91" stroke="#231f20" stroke-width="1.1"/>
<line x1="51.45" y1="580.91" x2="54.65" y2="580.91" stroke="#231f20" stroke-width="1.1"/>
<line x1="53.05" y1="573.73" x2="53.05" y2="570.72" stroke="#231f20" stroke-width="1.1"/>
<line x1="51.45" y1="570.72" x2="54.65" y2="570.72" stroke="#231f20" stroke-width="1.1"/>
<line x1="53.05" y1="554.80" x2="53.05" y2="551.78" stroke="#231f20" stroke-width="1.1"/>
<line x1="51.45" y1="551.78" x2="54.65" y2="551.78" stroke="#231f20" stroke-width="1.1"/>
<text x="53.05" y="625.80" font-size="8.8" text-anchor="middle" fill="#2b2b2b">+</text>
<text x="53.05" y="635.80" font-size="8.0" text-anchor="middle" fill="#2b2b2b">-</text>
<text x="53.05" y="647.00" font-size="8.0" text-anchor="middle" fill="#2b2b2b">-</text>
<rect x="58.00" y="581.45" width="4.40" height="33.65" fill="#50215f"/>
<rect x="58.00" y="573.31" width="4.40" height="8.14" fill="#e1911c"/>
<rect x="58.00" y="556.01" width="4.40" height="17.31" fill="#3b6e55"/>
<line x1="60.20" y1="581.45" x2="60.20" y2="578.44" stroke="#231f20" stroke-width="1.1"/>
<line x1="58.60" y1="578.44" x2="61.80" y2="578.44" stroke="#231f20" stroke-width="1.1"/>
<line x1="60.20" y1="573.31" x2="60.20" y2="570.30" stroke="#231f20" stroke-width="1.1"/>
<line x1="58.60" y1="570.30" x2="61.80" y2="570.30" stroke="#231f20" stroke-width="1.1"/>
<line x1="60.20" y1="556.01" x2="60.20" y2="552.99" stroke="#231f20" stroke-width="1.1"/>
<line x1="58.60" y1="552.99" x2="61.80" y2="552.99" stroke="#231f20" stroke-width="1.1"/>
<text x="60.20" y="624.30" font-size="8.0" text-anchor="middle" fill="#2b2b2b">-</text>
<text x="60.20" y="637.30" font-size="8.8" text-anchor="middle" fill="#2b2b2b">+</text>
<text x="60.20" y="647.00" font-size="8.0" text-anchor="middle" fill="#2b2b2b">-</text>
<rect x="64.90" y="589.77" width="4.80" height="25.33" fill="#50215f"/>
<rect x="64.90" y="573.73" width="4.80" height="16.04" fill="#e1911c"/>
<rect x="64.90" y="559.38" width="4.80" height="14.35" fill="#3b6e55"/>
<line x1="67.30" y1="589.77" x2="67.30" y2="586.76" stroke="#231f20" stroke-width="1.1"/>
<line x1="65.70" y1="586.76" x2="68.90" y2="586.76" stroke="#231f20" stroke-width="1.1"/>
<line x1="67.30" y1="573.73" x2="67.30" y2="570.72" stroke="#231f20" stroke-width="1.1"/>
<line x1="65.70" y1="570.72" x2="68.90" y2="570.72" stroke="#231f20" stroke-width="1.1"/>
<line x1="67.30" y1="559.38" x2="67.30" y2="556.37" stroke="#231f20" stroke-width="1.1"/>
<line x1="65.70" y1="556.37" x2="68.90" y2="556.37" stroke="#231f20" stroke-width="1.1"/>
<text x="67.30" y="624.30" font-size="8.0" text-anchor="middle" fill="#2b2b2b">-</text>
<text x="67.30" y="635.80" font-size="8.0" text-anchor="middle" fill="#2b2b2b">-</text>
<text x="67.30" y="648.50" font-size="8.8" text-anchor="middle" fill="#2b2b2b">+</text>
<rect x="85.50" y="588.75" width="4.80" height="26.35" fill="#50215f"/>
<rect x="85.50" y="578.32" width="4.80" height="10.43" fill="#e1911c"/>
<rect x="85.50" y="554.20" width="4.80" height="24.12" fill="#3b6e55"/>
<line x1="87.90" y1="588.75" x2="87.90" y2="585.73" stroke="#231f20" stroke-width="1.1"/>
<line x1="86.30" y1="585.73" x2="89.50" y2="585.73" stroke="#231f20" stroke-width="1.1"/>
<line x1="87.90" y1="578.32" x2="87.90" y2="575.30" stroke="#231f20" stroke-width="1.1"/>
<line x1="86.30" y1="575.30" x2="89.50" y2="575.30" stroke="#231f20" stroke-width="1.1"/>
<line x1="87.90" y1="554.20" x2="87.90" y2="551.18" stroke="#231f20" stroke-width="1.1"/>
<line x1="86.30" y1="551.18" x2="89.50" y2="551.18" stroke="#231f20" stroke-width="1.1"/>
<text x="87.90" y="625.80" font-size="8.8" text-anchor="middle" fill="#2b2b2b">+</text>
<text x="87.90" y="635.80" font-size="8.0" text-anchor="middle" fill="#2b2b2b">-</text>
<text x="87.90" y="647.00" font-size="8.0" text-anchor="middle" fill="#2b2b2b">-</text>
<rect x="92.80" y="583.14" width="4.70" height="31.96" fill="#50215f"/>
<rect x="92.80" y="571.26" width="4.70" height="11.88" fill="#e1911c"/>
<rect x="92.80" y="555.40" width="4.70" height="15.86" fill="#3b6e55"/>
<line x1="95.15" y1="583.14" x2="95.15" y2="580.13" stroke="#231f20" stroke-width="1.1"/>
<line x1="93.55" y1="580.13" x2="96.75" y2="580.13" stroke="#231f20" stroke-width="1.1"/>
<line x1="95.15" y1="571.26" x2="95.15" y2="568.25" stroke="#231f20" stroke-width="1.1"/>
<line x1="93.55" y1="568.25" x2="96.75" y2="568.25" stroke="#231f20" stroke-width="1.1"/>
<line x1="95.15" y1="555.40" x2="95.15" y2="552.39" stroke="#231f20" stroke-width="1.1"/>
<line x1="93.55" y1="552.39" x2="96.75" y2="552.39" stroke="#231f20" stroke-width="1.1"/>
<text x="95.15" y="624.30" font-size="8.0" text-anchor="middle" fill="#2b2b2b">-</text>
<text x="95.15" y="637.30" font-size="8.8" text-anchor="middle" fill="#2b2b2b">+</text>
<text x="95.15" y="647.00" font-size="8.0" text-anchor="middle" fill="#2b2b2b">-</text>
<rect x="100.00" y="590.98" width="4.80" height="24.12" fill="#50215f"/>
<rect x="100.00" y="572.29" width="4.80" height="18.69" fill="#e1911c"/>
<rect x="100.00" y="560.23" width="4.80" height="12.06" fill="#3b6e55"/>
<line x1="102.40" y1="590.98" x2="102.40" y2="587.97" stroke="#231f20" stroke-width="1.1"/>
<line x1="100.80" y1="587.97" x2="104.00" y2="587.97" stroke="#231f20" stroke-width="1.1"/>
<line x1="102.40" y1="572.29" x2="102.40" y2="569.27" stroke="#231f20" stroke-width="1.1"/>
<line x1="100.80" y1="569.27" x2="104.00" y2="569.27" stroke="#231f20" stroke-width="1.1"/>
<line x1="102.40" y1="560.23" x2="102.40" y2="557.21" stroke="#231f20" stroke-width="1.1"/>
<line x1="100.80" y1="557.21" x2="104.00" y2="557.21" stroke="#231f20" stroke-width="1.1"/>
<text x="102.40" y="624.30" font-size="8.0" text-anchor="middle" fill="#2b2b2b">-</text>
<text x="102.40" y="635.80" font-size="8.0" text-anchor="middle" fill="#2b2b2b">-</text>
<text x="102.40" y="648.50" font-size="8.8" text-anchor="middle" fill="#2b2b2b">+</text>
<rect x="120.80" y="589.77" width="4.60" height="25.33" fill="#50215f"/>
<rect x="120.80" y="579.16" width="4.60" height="10.61" fill="#e1911c"/>
<rect x="120.80" y="556.01" width="4.60" height="23.16" fill="#3b6e55"/>
<line x1="123.10" y1="589.77" x2="123.10" y2="586.76" stroke="#231f20" stroke-width="1.1"/>
<line x1="121.50" y1="586.76" x2="124.70" y2="586.76" stroke="#231f20" stroke-width="1.1"/>
<line x1="123.10" y1="579.16" x2="123.10" y2="576.15" stroke="#231f20" stroke-width="1.1"/>
<line x1="121.50" y1="576.15" x2="124.70" y2="576.15" stroke="#231f20" stroke-width="1.1"/>
<line x1="123.10" y1="556.01" x2="123.10" y2="552.99" stroke="#231f20" stroke-width="1.1"/>
<line x1="121.50" y1="552.99" x2="124.70" y2="552.99" stroke="#231f20" stroke-width="1.1"/>
<text x="123.10" y="625.80" font-size="8.8" text-anchor="middle" fill="#2b2b2b">+</text>
<text x="123.10" y="635.80" font-size="8.0" text-anchor="middle" fill="#2b2b2b">-</text>
<text x="123.10" y="647.00" font-size="8.0" text-anchor="middle" fill="#2b2b2b">-</text>
<rect x="127.90" y="587.24" width="4.90" height="27.86" fill="#50215f"/>
<rect x="127.90" y="578.56" width="4.90" height="8.68" fill="#e1911c"/>
<rect x="127.90" y="556.01" width="4.90" height="22.55" fill="#3b6e55"/>
<line x1="130.35" y1="587.24" x2="130.35" y2="584.23" stroke="#231f20" stroke-width="1.1"/>
<line x1="128.75" y1="584.23" x2="131.95" y2="584.23" stroke="#231f20" stroke-width="1.1"/>
<line x1="130.35" y1="578.56" x2="130.35" y2="575.54" stroke="#231f20" stroke-width="1.1"/>
<line x1="128.75" y1="575.54" x2="131.95" y2="575.54" stroke="#231f20" stroke-width="1.1"/>
<line x1="130.35" y1="556.01" x2="130.35" y2="552.99" stroke="#231f20" stroke-width="1.1"/>
<line x1="128.75" y1="552.99" x2="131.95" y2="552.99" stroke="#231f20" stroke-width="1.1"/>
<text x="130.35" y="624.30" font-size="8.0" text-anchor="middle" fill="#2b2b2b">-</text>
<text x="130.35" y="637.30" font-size="8.8" text-anchor="middle" fill="#2b2b2b">+</text>
<text x="130.35" y="647.00" font-size="8.0" text-anchor="middle" fill="#2b2b2b">-</text>
<rect x="135.30" y="586.82" width="4.80" height="28.28" fill="#50215f"/>
<rect x="135.30" y="572.89" width="4.80" height="13.93" fill="#e1911c"/>
<rect x="135.30" y="560.83" width="4.80" height="12.06" fill="#3b6e55"/>
<line x1="137.70" y1="586.82" x2="137.70" y2="583.80" stroke="#231f20" stroke-width="1.1"/>
<line x1="136.10" y1="583.80" x2="139.30" y2="583.80" stroke="#231f20" stroke-width="1.1"/>
<line x1="137.70" y1="572.89" x2="137.70" y2="569.88" stroke="#231f20" stroke-width="1.1"/>
<line x1="136.10" y1="569.88" x2="139.30" y2="569.88" stroke="#231f20" stroke-width="1.1"/>
<line x1="137.70" y1="560.83" x2="137.70" y2="557.81" stroke="#231f20" stroke-width="1.1"/>
<line x1="136.10" y1="557.81" x2="139.30" y2="557.81" stroke="#231f20" stroke-width="1.1"/>
<text x="137.70" y="624.30" font-size="8.0" text-anchor="middle" fill="#2b2b2b">-</text>
<text x="137.70" y="635.80" font-size="8.0" text-anchor="middle" fill="#2b2b2b">-</text>
<text x="137.70" y="648.50" font-size="8.8" text-anchor="middle" fill="#2b2b2b">+</text>
<rect x="155.90" y="585.37" width="4.80" height="29.73" fill="#50215f"/>
<rect x="155.90" y="575.30" width="4.80" height="10.07" fill="#e1911c"/>
<rect x="155.90" y="557.21" width="4.80" height="18.09" fill="#3b6e55"/>
<line x1="158.30" y1="585.37" x2="158.30" y2="582.36" stroke="#231f20" stroke-width="1.1"/>
<line x1="156.70" y1="582.36" x2="159.90" y2="582.36" stroke="#231f20" stroke-width="1.1"/>
<line x1="158.30" y1="575.30" x2="158.30" y2="572.29" stroke="#231f20" stroke-width="1.1"/>
<line x1="156.70" y1="572.29" x2="159.90" y2="572.29" stroke="#231f20" stroke-width="1.1"/>
<line x1="158.30" y1="557.21" x2="158.30" y2="554.20" stroke="#231f20" stroke-width="1.1"/>
<line x1="156.70" y1="554.20" x2="159.90" y2="554.20" stroke="#231f20" stroke-width="1.1"/>
<text x="158.30" y="625.80" font-size="8.8" text-anchor="middle" fill="#2b2b2b">+</text>
<text x="158.30" y="635.80" font-size="8.0" text-anchor="middle" fill="#2b2b2b">-</text>
<text x="158.30" y="647.00" font-size="8.0" text-anchor="middle" fill="#2b2b2b">-</text>
<rect x="163.00" y="583.14" width="4.80" height="31.96" fill="#50215f"/>
<rect x="163.00" y="574.70" width="4.80" height="8.44" fill="#e1911c"/>
<rect x="163.00" y="557.81" width="4.80" height="16.88" fill="#3b6e55"/>
<line x1="165.40" y1="583.14" x2="165.40" y2="580.13" stroke="#231f20" stroke-width="1.1"/>
<line x1="163.80" y1="580.13" x2="167.00" y2="580.13" stroke="#231f20" stroke-width="1.1"/>
<line x1="165.40" y1="574.70" x2="165.40" y2="571.68" stroke="#231f20" stroke-width="1.1"/>
<line x1="163.80" y1="571.68" x2="167.00" y2="571.68" stroke="#231f20" stroke-width="1.1"/>
<line x1="165.40" y1="557.81" x2="165.40" y2="554.80" stroke="#231f20" stroke-width="1.1"/>
<line x1="163.80" y1="554.80" x2="167.00" y2="554.80" stroke="#231f20" stroke-width="1.1"/>
<text x="165.40" y="624.30" font-size="8.0" text-anchor="middle" fill="#2b2b2b">-</text>
<text x="165.40" y="637.30" font-size="8.8" text-anchor="middle" fill="#2b2b2b">+</text>
<text x="165.40" y="647.00" font-size="8.0" text-anchor="middle" fill="#2b2b2b">-</text>
<rect x="170.30" y="587.97" width="4.80" height="27.13" fill="#50215f"/>
<rect x="170.30" y="573.31" width="4.80" height="14.65" fill="#e1911c"/>
<rect x="170.30" y="558.42" width="4.80" height="14.89" fill="#3b6e55"/>
<line x1="172.70" y1="587.97" x2="172.70" y2="584.95" stroke="#231f20" stroke-width="1.1"/>
<line x1="171.10" y1="584.95" x2="174.30" y2="584.95" stroke="#231f20" stroke-width="1.1"/>
<line x1="172.70" y1="573.31" x2="172.70" y2="570.30" stroke="#231f20" stroke-width="1.1"/>
<line x1="171.10" y1="570.30" x2="174.30" y2="570.30" stroke="#231f20" stroke-width="1.1"/>
<line x1="172.70" y1="558.42" x2="172.70" y2="555.40" stroke="#231f20" stroke-width="1.1"/>
<line x1="171.10" y1="555.40" x2="174.30" y2="555.40" stroke="#231f20" stroke-width="1.1"/>
<text x="172.70" y="624.30" font-size="8.0" text-anchor="middle" fill="#2b2b2b">-</text>
<text x="172.70" y="635.80" font-size="8.0" text-anchor="middle" fill="#2b2b2b">-</text>
<text x="172.70" y="648.50" font-size="8.8" text-anchor="middle" fill="#2b2b2b">+</text>
<line x1="77.4" y1="543" x2="77.4" y2="662.5" stroke="#231f20" stroke-width="1.2" stroke-dasharray="2.8,2.0"/>
<line x1="112.9" y1="543" x2="112.9" y2="662.5" stroke="#231f20" stroke-width="1.2" stroke-dasharray="2.8,2.0"/>
<line x1="147.8" y1="543" x2="147.8" y2="662.5" stroke="#231f20" stroke-width="1.2" stroke-dasharray="2.8,2.0"/>
<text x="59.90" y="659.80" font-size="8.7" text-anchor="middle" fill="#2b2b2b" textLength="24.80" lengthAdjust="spacingAndGlyphs">LT-HSC</text>
<text x="94.50" y="659.80" font-size="8.7" text-anchor="middle" fill="#2b2b2b" textLength="25.60" lengthAdjust="spacingAndGlyphs">ST-HSC</text>
<text x="129.80" y="659.80" font-size="8.7" text-anchor="middle" fill="#2b2b2b" textLength="20.80" lengthAdjust="spacingAndGlyphs">MPP2</text>
<text x="164.15" y="659.80" font-size="8.7" text-anchor="middle" fill="#2b2b2b" textLength="27.50" lengthAdjust="spacingAndGlyphs">MPP3/4</text>
<text x="25.00" y="578.80" font-size="10.0" text-anchor="middle" fill="#2b2b2b" textLength="20.00" lengthAdjust="spacingAndGlyphs" transform="rotate(-90 25.00 578.80)">Cell %</text>
<line x1="237.00" y1="542.90" x2="237.00" y2="615.60" stroke="#111" stroke-width="1.5"/>
<line x1="233.80" y1="615.10" x2="237.00" y2="615.10" stroke="#111" stroke-width="1.2"/>
<line x1="233.80" y1="584.95" x2="237.00" y2="584.95" stroke="#111" stroke-width="1.2"/>
<line x1="233.80" y1="554.80" x2="237.00" y2="554.80" stroke="#111" stroke-width="1.2"/>
<line x1="235.20" y1="600.02" x2="237.00" y2="600.02" stroke="#111" stroke-width="1.1"/>
<line x1="235.20" y1="569.88" x2="237.00" y2="569.88" stroke="#111" stroke-width="1.1"/>
<line x1="236.50" y1="615.40" x2="365.50" y2="615.40" stroke="#111" stroke-width="1.5"/>
<text x="231.80" y="618.10" font-size="8.53" text-anchor="end" fill="#2b2b2b" textLength="4.70" lengthAdjust="spacingAndGlyphs">0</text>
<text x="231.80" y="587.95" font-size="8.53" text-anchor="end" fill="#2b2b2b" textLength="9.40" lengthAdjust="spacingAndGlyphs">50</text>
<text x="231.80" y="557.80" font-size="8.53" text-anchor="end" fill="#2b2b2b" textLength="14.10" lengthAdjust="spacingAndGlyphs">100</text>
<rect x="238.50" y="606.06" width="4.90" height="9.04" fill="#50215f"/>
<rect x="238.50" y="584.77" width="4.90" height="21.29" fill="#e1911c"/>
<rect x="238.50" y="557.81" width="4.90" height="26.95" fill="#3b6e55"/>
<line x1="240.95" y1="606.06" x2="240.95" y2="603.04" stroke="#231f20" stroke-width="1.1"/>
<line x1="239.35" y1="603.04" x2="242.55" y2="603.04" stroke="#231f20" stroke-width="1.1"/>
<line x1="240.95" y1="584.77" x2="240.95" y2="581.75" stroke="#231f20" stroke-width="1.1"/>
<line x1="239.35" y1="581.75" x2="242.55" y2="581.75" stroke="#231f20" stroke-width="1.1"/>
<line x1="240.95" y1="557.81" x2="240.95" y2="554.80" stroke="#231f20" stroke-width="1.1"/>
<line x1="239.35" y1="554.80" x2="242.55" y2="554.80" stroke="#231f20" stroke-width="1.1"/>
<text x="240.95" y="625.80" font-size="8.8" text-anchor="middle" fill="#2b2b2b">+</text>
<text x="240.95" y="635.80" font-size="8.0" text-anchor="middle" fill="#2b2b2b">-</text>
<text x="240.95" y="647.00" font-size="8.0" text-anchor="middle" fill="#2b2b2b">-</text>
<rect x="245.90" y="588.63" width="4.60" height="26.47" fill="#50215f"/>
<rect x="245.90" y="571.86" width="4.60" height="16.76" fill="#e1911c"/>
<rect x="245.90" y="556.49" width="4.60" height="15.38" fill="#3b6e55"/>
<line x1="248.20" y1="588.63" x2="248.20" y2="585.61" stroke="#231f20" stroke-width="1.1"/>
<line x1="246.60" y1="585.61" x2="249.80" y2="585.61" stroke="#231f20" stroke-width="1.1"/>
<line x1="248.20" y1="571.86" x2="248.20" y2="568.85" stroke="#231f20" stroke-width="1.1"/>
<line x1="246.60" y1="568.85" x2="249.80" y2="568.85" stroke="#231f20" stroke-width="1.1"/>
<line x1="248.20" y1="556.49" x2="248.20" y2="553.47" stroke="#231f20" stroke-width="1.1"/>
<line x1="246.60" y1="553.47" x2="249.80" y2="553.47" stroke="#231f20" stroke-width="1.1"/>
<text x="248.20" y="624.30" font-size="8.0" text-anchor="middle" fill="#2b2b2b">-</text>
<text x="248.20" y="637.30" font-size="8.8" text-anchor="middle" fill="#2b2b2b">+</text>
<text x="248.20" y="647.00" font-size="8.0" text-anchor="middle" fill="#2b2b2b">-</text>
<rect x="253.00" y="589.77" width="4.80" height="25.33" fill="#50215f"/>
<rect x="253.00" y="577.29" width="4.80" height="12.48" fill="#e1911c"/>
<rect x="253.00" y="554.80" width="4.80" height="22.49" fill="#3b6e55"/>
<line x1="255.40" y1="589.77" x2="255.40" y2="586.76" stroke="#231f20" stroke-width="1.1"/>
<line x1="253.80" y1="586.76" x2="257.00" y2="586.76" stroke="#231f20" stroke-width="1.1"/>
<line x1="255.40" y1="577.29" x2="255.40" y2="574.28" stroke="#231f20" stroke-width="1.1"/>
<line x1="253.80" y1="574.28" x2="257.00" y2="574.28" stroke="#231f20" stroke-width="1.1"/>
<line x1="255.40" y1="554.80" x2="255.40" y2="551.78" stroke="#231f20" stroke-width="1.1"/>
<line x1="253.80" y1="551.78" x2="257.00" y2="551.78" stroke="#231f20" stroke-width="1.1"/>
<text x="255.40" y="624.30" font-size="8.0" text-anchor="middle" fill="#2b2b2b">-</text>
<text x="255.40" y="635.80" font-size="8.0" text-anchor="middle" fill="#2b2b2b">-</text>
<text x="255.40" y="648.50" font-size="8.8" text-anchor="middle" fill="#2b2b2b">+</text>
<rect x="273.80" y="603.04" width="4.60" height="12.06" fill="#50215f"/>
<rect x="273.80" y="585.37" width="4.60" height="17.67" fill="#e1911c"/>
<rect x="273.80" y="558.78" width="4.60" height="26.59" fill="#3b6e55"/>
<line x1="276.10" y1="603.04" x2="276.10" y2="600.02" stroke="#231f20" stroke-width="1.1"/>
<line x1="274.50" y1="600.02" x2="277.70" y2="600.02" stroke="#231f20" stroke-width="1.1"/>
<line x1="276.10" y1="585.37" x2="276.10" y2="582.36" stroke="#231f20" stroke-width="1.1"/>
<line x1="274.50" y1="582.36" x2="277.70" y2="582.36" stroke="#231f20" stroke-width="1.1"/>
<line x1="276.10" y1="558.78" x2="276.10" y2="555.76" stroke="#231f20" stroke-width="1.1"/>
<line x1="274.50" y1="555.76" x2="277.70" y2="555.76" stroke="#231f20" stroke-width="1.1"/>
<text x="276.10" y="625.80" font-size="8.8" text-anchor="middle" fill="#2b2b2b">+</text>
<text x="276.10" y="635.80" font-size="8.0" text-anchor="middle" fill="#2b2b2b">-</text>
<text x="276.10" y="647.00" font-size="8.0" text-anchor="middle" fill="#2b2b2b">-</text>
<rect x="280.90" y="594.96" width="4.80" height="20.14" fill="#50215f"/>
<rect x="280.90" y="579.95" width="4.80" height="15.01" fill="#e1911c"/>
<rect x="280.90" y="558.42" width="4.80" height="21.53" fill="#3b6e55"/>
<line x1="283.30" y1="594.96" x2="283.30" y2="591.94" stroke="#231f20" stroke-width="1.1"/>
<line x1="281.70" y1="591.94" x2="284.90" y2="591.94" stroke="#231f20" stroke-width="1.1"/>
<line x1="283.30" y1="579.95" x2="283.30" y2="576.93" stroke="#231f20" stroke-width="1.1"/>
<line x1="281.70" y1="576.93" x2="284.90" y2="576.93" stroke="#231f20" stroke-width="1.1"/>
<line x1="283.30" y1="558.42" x2="283.30" y2="555.40" stroke="#231f20" stroke-width="1.1"/>
<line x1="281.70" y1="555.40" x2="284.90" y2="555.40" stroke="#231f20" stroke-width="1.1"/>
<text x="283.30" y="624.30" font-size="8.0" text-anchor="middle" fill="#2b2b2b">-</text>
<text x="283.30" y="637.30" font-size="8.8" text-anchor="middle" fill="#2b2b2b">+</text>
<text x="283.30" y="647.00" font-size="8.0" text-anchor="middle" fill="#2b2b2b">-</text>
<rect x="288.20" y="593.39" width="4.70" height="21.71" fill="#50215f"/>
<rect x="288.20" y="576.09" width="4.70" height="17.31" fill="#e1911c"/>
<rect x="288.20" y="555.10" width="4.70" height="20.98" fill="#3b6e55"/>
<line x1="290.55" y1="593.39" x2="290.55" y2="590.38" stroke="#231f20" stroke-width="1.1"/>
<line x1="288.95" y1="590.38" x2="292.15" y2="590.38" stroke="#231f20" stroke-width="1.1"/>
<line x1="290.55" y1="576.09" x2="290.55" y2="573.07" stroke="#231f20" stroke-width="1.1"/>
<line x1="288.95" y1="573.07" x2="292.15" y2="573.07" stroke="#231f20" stroke-width="1.1"/>
<line x1="290.55" y1="555.10" x2="290.55" y2="552.09" stroke="#231f20" stroke-width="1.1"/>
<line x1="288.95" y1="552.09" x2="292.15" y2="552.09" stroke="#231f20" stroke-width="1.1"/>
<text x="290.55" y="624.30" font-size="8.0" text-anchor="middle" fill="#2b2b2b">-</text>
<text x="290.55" y="635.80" font-size="8.0" text-anchor="middle" fill="#2b2b2b">-</text>
<text x="290.55" y="648.50" font-size="8.8" text-anchor="middle" fill="#2b2b2b">+</text>
<rect x="308.30" y="601.83" width="4.80" height="13.27" fill="#50215f"/>
<rect x="308.30" y="571.50" width="4.80" height="30.33" fill="#e1911c"/>
<rect x="308.30" y="556.91" width="4.80" height="14.59" fill="#3b6e55"/>
<line x1="310.70" y1="601.83" x2="310.70" y2="598.82" stroke="#231f20" stroke-width="1.1"/>
<line x1="309.10" y1="598.82" x2="312.30" y2="598.82" stroke="#231f20" stroke-width="1.1"/>
<line x1="310.70" y1="571.50" x2="310.70" y2="568.49" stroke="#231f20" stroke-width="1.1"/>
<line x1="309.10" y1="568.49" x2="312.30" y2="568.49" stroke="#231f20" stroke-width="1.1"/>
<line x1="310.70" y1="556.91" x2="310.70" y2="553.90" stroke="#231f20" stroke-width="1.1"/>
<line x1="309.10" y1="553.90" x2="312.30" y2="553.90" stroke="#231f20" stroke-width="1.1"/>
<text x="310.70" y="625.80" font-size="8.8" text-anchor="middle" fill="#2b2b2b">+</text>
<text x="310.70" y="635.80" font-size="8.0" text-anchor="middle" fill="#2b2b2b">-</text>
<text x="310.70" y="647.00" font-size="8.0" text-anchor="middle" fill="#2b2b2b">-</text>
<rect x="315.60" y="598.22" width="4.80" height="16.88" fill="#50215f"/>
<rect x="315.60" y="575.30" width="4.80" height="22.91" fill="#e1911c"/>
<rect x="315.60" y="558.00" width="4.80" height="17.31" fill="#3b6e55"/>
<line x1="318.00" y1="598.22" x2="318.00" y2="595.20" stroke="#231f20" stroke-width="1.1"/>
<line x1="316.40" y1="595.20" x2="319.60" y2="595.20" stroke="#231f20" stroke-width="1.1"/>
<line x1="318.00" y1="575.30" x2="318.00" y2="572.29" stroke="#231f20" stroke-width="1.1"/>
<line x1="316.40" y1="572.29" x2="319.60" y2="572.29" stroke="#231f20" stroke-width="1.1"/>
<line x1="318.00" y1="558.00" x2="318.00" y2="554.98" stroke="#231f20" stroke-width="1.1"/>
<line x1="316.40" y1="554.98" x2="319.60" y2="554.98" stroke="#231f20" stroke-width="1.1"/>
<text x="318.00" y="624.30" font-size="8.0" text-anchor="middle" fill="#2b2b2b">-</text>
<text x="318.00" y="637.30" font-size="8.8" text-anchor="middle" fill="#2b2b2b">+</text>
<text x="318.00" y="647.00" font-size="8.0" text-anchor="middle" fill="#2b2b2b">-</text>
<rect x="322.80" y="590.98" width="4.80" height="24.12" fill="#50215f"/>
<rect x="322.80" y="580.85" width="4.80" height="10.13" fill="#e1911c"/>
<rect x="322.80" y="555.89" width="4.80" height="24.96" fill="#3b6e55"/>
<line x1="325.20" y1="590.98" x2="325.20" y2="587.97" stroke="#231f20" stroke-width="1.1"/>
<line x1="323.60" y1="587.97" x2="326.80" y2="587.97" stroke="#231f20" stroke-width="1.1"/>
<line x1="325.20" y1="580.85" x2="325.20" y2="577.83" stroke="#231f20" stroke-width="1.1"/>
<line x1="323.60" y1="577.83" x2="326.80" y2="577.83" stroke="#231f20" stroke-width="1.1"/>
<line x1="325.20" y1="555.89" x2="325.20" y2="552.87" stroke="#231f20" stroke-width="1.1"/>
<line x1="323.60" y1="552.87" x2="326.80" y2="552.87" stroke="#231f20" stroke-width="1.1"/>
<text x="325.20" y="624.30" font-size="8.0" text-anchor="middle" fill="#2b2b2b">-</text>
<text x="325.20" y="635.80" font-size="8.0" text-anchor="middle" fill="#2b2b2b">-</text>
<text x="325.20" y="648.50" font-size="8.8" text-anchor="middle" fill="#2b2b2b">+</text>
<rect x="343.60" y="597.43" width="4.60" height="17.67" fill="#50215f"/>
<rect x="343.60" y="581.45" width="4.60" height="15.98" fill="#e1911c"/>
<rect x="343.60" y="556.91" width="4.60" height="24.54" fill="#3b6e55"/>
<line x1="345.90" y1="597.43" x2="345.90" y2="594.42" stroke="#231f20" stroke-width="1.1"/>
<line x1="344.30" y1="594.42" x2="347.50" y2="594.42" stroke="#231f20" stroke-width="1.1"/>
<line x1="345.90" y1="581.45" x2="345.90" y2="578.44" stroke="#231f20" stroke-width="1.1"/>
<line x1="344.30" y1="578.44" x2="347.50" y2="578.44" stroke="#231f20" stroke-width="1.1"/>
<line x1="345.90" y1="556.91" x2="345.90" y2="553.90" stroke="#231f20" stroke-width="1.1"/>
<line x1="344.30" y1="553.90" x2="347.50" y2="553.90" stroke="#231f20" stroke-width="1.1"/>
<text x="345.90" y="625.80" font-size="8.8" text-anchor="middle" fill="#2b2b2b">+</text>
<text x="345.90" y="635.80" font-size="8.0" text-anchor="middle" fill="#2b2b2b">-</text>
<text x="345.90" y="647.00" font-size="8.0" text-anchor="middle" fill="#2b2b2b">-</text>
<rect x="350.70" y="589.77" width="4.80" height="25.33" fill="#50215f"/>
<rect x="350.70" y="577.29" width="4.80" height="12.48" fill="#e1911c"/>
<rect x="350.70" y="557.39" width="4.80" height="19.90" fill="#3b6e55"/>
<line x1="353.10" y1="589.77" x2="353.10" y2="586.76" stroke="#231f20" stroke-width="1.1"/>
<line x1="351.50" y1="586.76" x2="354.70" y2="586.76" stroke="#231f20" stroke-width="1.1"/>
<line x1="353.10" y1="577.29" x2="353.10" y2="574.28" stroke="#231f20" stroke-width="1.1"/>
<line x1="351.50" y1="574.28" x2="354.70" y2="574.28" stroke="#231f20" stroke-width="1.1"/>
<line x1="353.10" y1="557.39" x2="353.10" y2="554.38" stroke="#231f20" stroke-width="1.1"/>
<line x1="351.50" y1="554.38" x2="354.70" y2="554.38" stroke="#231f20" stroke-width="1.1"/>
<text x="353.10" y="624.30" font-size="8.0" text-anchor="middle" fill="#2b2b2b">-</text>
<text x="353.10" y="637.30" font-size="8.8" text-anchor="middle" fill="#2b2b2b">+</text>
<text x="353.10" y="647.00" font-size="8.0" text-anchor="middle" fill="#2b2b2b">-</text>
<rect x="357.80" y="587.24" width="5.00" height="27.86" fill="#50215f"/>
<rect x="357.80" y="578.56" width="5.00" height="8.68" fill="#e1911c"/>
<rect x="357.80" y="556.01" width="5.00" height="22.55" fill="#3b6e55"/>
<line x1="360.30" y1="587.24" x2="360.30" y2="584.23" stroke="#231f20" stroke-width="1.1"/>
<line x1="358.70" y1="584.23" x2="361.90" y2="584.23" stroke="#231f20" stroke-width="1.1"/>
<line x1="360.30" y1="578.56" x2="360.30" y2="575.54" stroke="#231f20" stroke-width="1.1"/>
<line x1="358.70" y1="575.54" x2="361.90" y2="575.54" stroke="#231f20" stroke-width="1.1"/>
<line x1="360.30" y1="556.01" x2="360.30" y2="552.99" stroke="#231f20" stroke-width="1.1"/>
<line x1="358.70" y1="552.99" x2="361.90" y2="552.99" stroke="#231f20" stroke-width="1.1"/>
<text x="360.30" y="624.30" font-size="8.0" text-anchor="middle" fill="#2b2b2b">-</text>
<text x="360.30" y="635.80" font-size="8.0" text-anchor="middle" fill="#2b2b2b">-</text>
<text x="360.30" y="648.50" font-size="8.8" text-anchor="middle" fill="#2b2b2b">+</text>
<line x1="265.5" y1="543" x2="265.5" y2="662.5" stroke="#231f20" stroke-width="1.2" stroke-dasharray="2.8,2.0"/>
<line x1="300.6" y1="543" x2="300.6" y2="662.5" stroke="#231f20" stroke-width="1.2" stroke-dasharray="2.8,2.0"/>
<line x1="335.7" y1="543" x2="335.7" y2="662.5" stroke="#231f20" stroke-width="1.2" stroke-dasharray="2.8,2.0"/>
<text x="248.45" y="659.80" font-size="8.7" text-anchor="middle" fill="#2b2b2b" textLength="25.10" lengthAdjust="spacingAndGlyphs">LT-HSC</text>
<text x="282.90" y="659.80" font-size="8.7" text-anchor="middle" fill="#2b2b2b" textLength="26.20" lengthAdjust="spacingAndGlyphs">ST-HSC</text>
<text x="318.15" y="659.80" font-size="8.7" text-anchor="middle" fill="#2b2b2b" textLength="20.30" lengthAdjust="spacingAndGlyphs">MPP2</text>
<text x="352.50" y="659.80" font-size="8.7" text-anchor="middle" fill="#2b2b2b" textLength="27.00" lengthAdjust="spacingAndGlyphs">MPP3/4</text>
<text x="211.20" y="578.80" font-size="10.0" text-anchor="middle" fill="#2b2b2b" textLength="20.00" lengthAdjust="spacingAndGlyphs" transform="rotate(-90 211.20 578.80)">Cell %</text>
<text x="368.50" y="625.90" font-size="8.4" fill="#2b2b2b" textLength="50.00" lengthAdjust="spacingAndGlyphs">Control shRNA</text>
<text x="368.50" y="637.40" font-size="8.4" fill="#2b2b2b" textLength="53.00" lengthAdjust="spacingAndGlyphs"><tspan font-style="italic">Gprasp1</tspan> shRNA</text>
<text x="368.50" y="648.60" font-size="8.4" fill="#2b2b2b" textLength="52.50" lengthAdjust="spacingAndGlyphs"><tspan font-style="italic">Gprasp2</tspan> shRNA</text>
<text x="248.20" y="549.00" font-size="7.5" text-anchor="middle" fill="#2b2b2b">*</text>
<text x="248.20" y="552.60" font-size="7.5" text-anchor="middle" fill="#2b2b2b">*</text>
<text x="255.40" y="552.00" font-size="7.5" text-anchor="middle" fill="#2b2b2b">*</text>
<text x="248.20" y="580.40" font-size="7.5" text-anchor="middle" fill="#fff">*</text>
<text x="248.20" y="583.70" font-size="7.5" text-anchor="middle" fill="#fff">*</text>
<text x="255.40" y="581.70" font-size="7.5" text-anchor="middle" fill="#fff">*</text>
<text x="255.40" y="585.00" font-size="7.5" text-anchor="middle" fill="#fff">*</text>
</svg></body></html>
